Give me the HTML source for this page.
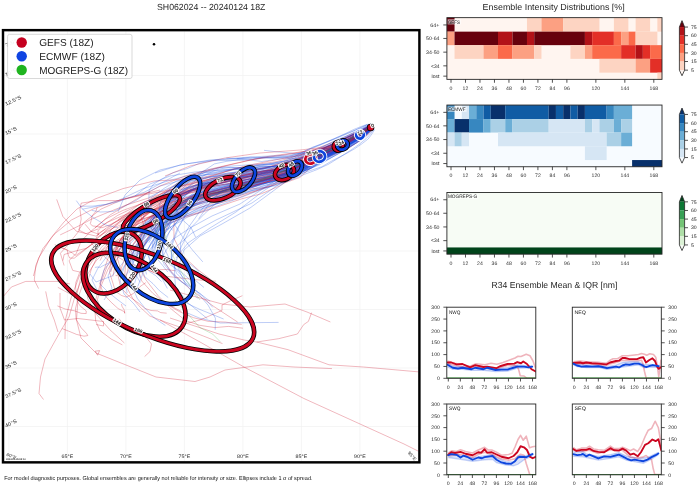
<!DOCTYPE html>
<html><head><meta charset="utf-8"><title>SH062024 ensemble</title>
<style>html,body{margin:0;padding:0;background:#fff;}body{width:700px;height:490px;overflow:hidden;font-family:"Liberation Sans", sans-serif;}</style>
</head><body>
<svg width="700" height="490" viewBox="0 0 700 490" font-family='"Liberation Sans", sans-serif' text-rendering="geometricPrecision" style="display:block;will-change:opacity;opacity:0.999"><text x="157.00" y="10.40" font-size="8.8" text-anchor="start" fill="#262626" textLength="108.40" lengthAdjust="spacingAndGlyphs">SH062024 -- 20240124 18Z</text>
<text x="482.60" y="9.70" font-size="8.8" text-anchor="start" fill="#262626" textLength="142.10" lengthAdjust="spacingAndGlyphs">Ensemble Intensity Distributions [%]</text>
<text x="491.40" y="288.40" font-size="8.8" text-anchor="start" fill="#262626" textLength="126.00" lengthAdjust="spacingAndGlyphs">R34 Ensemble Mean &amp; IQR [nm]</text>
<text x="4.20" y="479.60" font-size="5.7" text-anchor="start" fill="#111" textLength="308.30" lengthAdjust="spacingAndGlyphs">For model diagnostic purposes. Global ensembles are generally not reliable for intensity or size. Ellipses include 1 σ of spread.</text>
<clipPath id="mapclip"><rect x="4" y="31.3" width="414.2" height="429.6"/></clipPath>
<g clip-path="url(#mapclip)">
<line x1="8.90" y1="30" x2="8.90" y2="462" stroke="#f0f0f0" stroke-width="0.7"/>
<line x1="67.40" y1="30" x2="67.40" y2="462" stroke="#f0f0f0" stroke-width="0.7"/>
<line x1="125.90" y1="30" x2="125.90" y2="462" stroke="#f0f0f0" stroke-width="0.7"/>
<line x1="184.40" y1="30" x2="184.40" y2="462" stroke="#f0f0f0" stroke-width="0.7"/>
<line x1="242.90" y1="30" x2="242.90" y2="462" stroke="#f0f0f0" stroke-width="0.7"/>
<line x1="301.40" y1="30" x2="301.40" y2="462" stroke="#f0f0f0" stroke-width="0.7"/>
<line x1="359.90" y1="30" x2="359.90" y2="462" stroke="#f0f0f0" stroke-width="0.7"/>
<line x1="418.40" y1="30" x2="418.40" y2="462" stroke="#f0f0f0" stroke-width="0.7"/>
<line x1="3" y1="75.50" x2="419" y2="75.50" stroke="#f0f0f0" stroke-width="0.7"/>
<line x1="3" y1="134.00" x2="419" y2="134.00" stroke="#f0f0f0" stroke-width="0.7"/>
<line x1="3" y1="192.50" x2="419" y2="192.50" stroke="#f0f0f0" stroke-width="0.7"/>
<line x1="3" y1="251.00" x2="419" y2="251.00" stroke="#f0f0f0" stroke-width="0.7"/>
<line x1="3" y1="309.50" x2="419" y2="309.50" stroke="#f0f0f0" stroke-width="0.7"/>
<line x1="3" y1="368.00" x2="419" y2="368.00" stroke="#f0f0f0" stroke-width="0.7"/>
<line x1="3" y1="426.50" x2="419" y2="426.50" stroke="#f0f0f0" stroke-width="0.7"/>
<path d="M370.4 129.0 L364.9 133.4 L358.7 138.3 L349.0 144.0 L338.3 150.2 L325.2 158.0 L310.5 166.4 L296.1 176.4 L279.2 186.1 L261.5 193.7 L242.5 198.6 L224.1 204.7 L204.3 211.4 L181.7 218.5 L158.9 226.7 L136.6 236.4 L119.0 249.0 L107.1 266.4 L100.2 284.6 L94.4 303.9 L95.7 321.1 L100.0 330.6 L111.1 339.0 L122.4 344.9 M369.0 129.1 L362.9 133.6 L355.6 138.3 L345.7 144.8 L333.9 151.8 L320.6 157.4 L306.3 163.8 L291.2 175.3 L274.7 184.7 L257.6 190.4 L240.2 195.3 L222.7 199.8 L204.5 206.0 L186.3 211.5 L164.6 219.1 L147.5 226.8 L130.7 237.3 L118.5 251.4 L108.1 269.1 L100.8 286.6 L97.4 300.0 L101.9 311.8 L113.5 321.5 L124.1 328.5 L131.9 332.1 L131.3 331.8 L128.7 328.7 L122.8 323.6 L119.0 318.6 M372.2 129.4 L368.1 133.8 L363.0 138.6 L355.2 143.8 L345.5 150.1 L331.5 155.6 L317.5 161.5 L307.9 170.1 L299.8 177.5 L288.4 181.6 L276.6 184.2 L266.0 187.5 L253.4 188.7 L239.2 191.3 L223.6 192.4 L209.5 194.3 L196.9 199.3 M370.9 127.0 L365.9 130.8 L359.8 135.2 L350.7 140.6 L338.9 146.6 L325.4 153.1 L311.3 159.8 L299.3 166.4 L286.6 173.6 L272.2 177.7 L257.2 181.7 L241.6 186.2 L225.2 190.1 L208.3 194.4 L189.3 198.9 L173.0 204.2 L158.4 213.0 L144.6 228.6 L132.9 245.3 L123.6 261.8 L118.3 276.8 L120.7 287.4 L128.4 295.8 L138.4 303.1 L144.9 308.4 L151.0 310.5 L157.5 310.9 L160.6 312.6 L166.7 313.2 M369.4 128.7 L363.5 132.4 L356.6 136.7 L346.7 142.0 L334.7 148.1 L320.3 154.3 L305.0 161.4 L291.2 169.4 L277.3 174.4 L260.0 178.8 L242.7 182.9 L227.2 187.7 L207.6 192.9 L186.5 199.3 L164.9 207.9 L139.8 215.1 L122.7 224.3 L106.9 237.0 L95.1 249.4 L86.7 263.7 L79.5 272.9 L75.8 282.5 L75.6 288.0 L76.4 292.1 L75.1 293.0 L70.9 294.3 L64.6 291.0 L57.8 287.3 M368.2 128.5 L361.9 132.8 L354.4 137.5 L344.9 143.7 L333.6 150.7 L319.4 156.6 L304.4 162.9 L286.8 172.3 L268.7 181.2 L251.7 187.8 L235.2 192.8 L217.2 198.4 L196.7 205.2 L171.9 215.8 L143.1 226.7 L116.2 240.7 L95.0 255.2 L79.6 275.3 L71.0 298.2 L65.3 320.2 L65.0 339.1 M369.5 125.9 L363.2 129.3 L356.0 133.2 L346.5 137.8 L335.8 143.1 L323.0 148.5 L308.5 154.2 L296.1 159.1 L282.0 164.1 L267.2 167.4 L251.8 170.5 L236.5 172.7 L221.7 174.8 L205.7 180.5 L190.9 184.1 L176.5 186.7 L162.7 194.8 L149.0 201.6 L133.2 211.3 L120.6 219.3 L109.4 225.0 L101.9 227.8 L96.9 226.4 L92.5 226.0 L90.3 223.7 L91.1 220.8 L92.0 216.0 L96.0 211.1 L97.1 207.5 M369.2 128.0 L363.1 132.3 L355.6 137.0 L345.2 143.2 L332.9 149.6 L319.1 155.9 L304.5 162.4 L289.3 170.7 L272.7 179.9 L254.2 185.5 L234.8 192.4 L216.5 197.0 L195.9 203.7 L174.3 210.7 L150.4 218.4 L130.1 227.1 L112.8 238.8 L99.6 252.2 L91.7 268.1 L86.9 283.7 L87.5 298.1 L95.5 313.3 L109.6 329.5 L124.4 343.0 M370.7 126.2 L366.0 128.7 L360.0 132.0 L351.5 137.2 L339.7 142.8 L325.8 148.7 L311.4 154.5 L300.6 160.5 L287.5 165.4 L272.9 169.3 L257.5 172.9 L241.9 176.0 L225.8 181.6 L209.2 186.2 L191.3 192.8 L171.9 199.2 L156.6 207.9 L141.3 219.0 L126.9 230.4 L117.6 244.6 L111.3 254.9 L111.4 264.0 L117.1 272.5 L126.7 281.4 L135.0 288.7 L145.3 295.0 L158.3 299.7 L170.0 305.5 L181.4 311.5 M368.3 127.6 L361.4 131.6 L353.4 136.0 L344.1 141.4 L332.6 147.9 L319.3 154.4 L303.5 160.7 L287.4 168.0 L269.0 175.1 L252.6 179.5 L234.8 184.8 L217.1 189.8 L198.0 194.0 L177.3 203.3 L153.7 209.8 L130.1 220.8 L113.0 228.1 L99.1 236.0 L89.6 246.1 L80.9 253.1 L74.2 258.2 L69.6 258.0 L68.3 255.1 L67.2 249.9 L54.8 244.7 M369.2 127.5 L363.8 131.5 L357.2 135.7 L347.6 141.0 L336.1 146.7 L322.4 152.7 L308.7 159.0 L296.5 165.8 L284.0 172.1 L269.5 176.9 L255.0 181.7 L239.3 184.9 L223.7 190.4 L204.6 194.4 L184.1 199.8 L164.7 205.8 L146.8 213.7 L134.3 224.6 L123.4 237.8 L115.5 251.6 L110.4 263.6 L109.7 272.8 L113.0 283.4 L115.3 291.2 L121.5 295.5 L126.5 297.1 L133.3 293.6 L139.9 286.7 L145.8 282.6 M370.2 125.5 L364.8 128.4 L358.4 131.8 L349.1 136.8 L337.9 142.2 L323.8 149.1 L310.4 154.7 L299.4 160.4 L288.8 164.1 L276.4 168.3 L262.6 171.0 L246.5 174.3 L233.7 177.9 L219.8 181.3 L203.8 183.6 L189.6 186.4 L176.2 191.6 L161.7 203.4 L145.2 215.7 L133.6 228.7 L124.9 240.3 M370.0 126.6 L364.5 129.3 L357.8 132.6 L348.3 137.2 L336.7 142.9 L322.4 149.4 L307.3 156.0 L295.2 160.0 L281.9 164.8 L265.9 167.7 L249.3 171.1 L231.5 174.3 L213.6 178.1 L194.2 183.1 L176.3 190.5 L158.3 196.8 L143.3 202.5 L130.0 209.4 L117.7 215.4 L107.8 222.0 L101.7 226.3 L97.9 231.0 L98.1 234.5 L99.2 234.9 L98.2 234.0 L91.2 231.5 L85.1 224.2 M372.1 129.6 L368.1 133.8 L363.2 138.4 L355.0 143.8 L344.4 149.5 L330.9 155.2 L316.9 160.8 L307.0 167.2 L297.0 173.3 L284.4 177.5 L270.3 181.6 L256.6 185.0 L243.4 188.8 L228.4 191.3 L213.4 193.0 L200.0 195.5 L188.3 202.2 L177.4 212.5 L167.3 226.1 L161.6 241.0 L160.3 256.0 L172.1 273.0 L191.2 290.0 L213.7 306.4 L237.7 322.1 M371.2 127.3 L366.7 130.4 L361.1 134.0 L352.8 139.5 L342.2 145.9 L328.3 151.5 L315.1 157.0 L304.5 165.1 L294.0 171.5 L280.7 176.6 L265.9 180.8 L250.4 184.5 L235.3 186.8 L220.3 191.9 L203.9 195.7 L189.1 198.7 L173.9 207.3 L162.5 218.6 L149.3 234.2 L141.3 250.8 L138.3 264.7 L145.8 279.7 L158.1 295.7 L171.7 309.4 L185.6 320.6 L199.6 325.3 L214.9 327.6 L228.6 326.4 L242.9 328.2 M370.4 128.2 L364.1 132.1 L356.8 136.0 L347.4 140.6 L336.2 145.1 L322.9 151.4 L308.8 158.2 L297.3 164.8 L284.7 170.8 L270.5 173.7 L256.9 176.3 L243.4 179.1 L228.7 184.1 L212.0 186.3 L193.1 190.1 L176.3 195.5 L161.2 202.3 L148.2 211.8 L135.4 224.2 L124.4 236.5 L117.8 247.7 L116.9 256.1 L118.9 263.6 L121.2 270.2 L120.7 271.1 L115.4 267.7 L107.7 260.0 L98.9 250.8 L91.1 243.1 M370.2 129.1 L365.0 133.2 L358.6 137.9 L348.2 143.5 L335.4 150.0 L321.6 156.9 L305.9 163.3 L290.3 171.8 L272.5 179.8 L255.4 185.5 L237.7 190.9 L219.2 195.6 L201.1 202.1 L179.5 208.7 L156.8 214.5 L133.6 221.5 L117.0 231.6 L101.3 247.5 L88.7 266.7 L79.5 284.5 L74.3 298.2 M369.7 128.3 L363.5 132.2 L356.5 136.7 L346.5 144.0 L335.0 151.8 L321.8 157.6 L307.3 162.9 L294.0 171.5 L279.0 178.8 L263.1 183.0 L247.5 186.7 L229.3 190.1 L212.1 196.0 L190.8 201.0 L168.6 210.2 L148.3 218.5 L129.4 229.0 L118.5 242.4 L108.7 256.2 L103.4 272.1 L99.9 283.3 L103.4 294.0 L111.4 302.5 L118.0 308.5 L124.5 311.8 L124.7 313.3 L124.3 310.1 L122.0 306.3 L121.5 304.0 M369.1 129.7 L362.4 134.3 L354.6 139.5 L343.8 145.8 L331.5 152.7 L318.7 159.2 L304.3 166.5 L287.2 176.9 L270.3 185.3 L251.8 192.6 L234.6 199.3 L216.3 203.8 L198.7 212.6 L175.4 218.8 L150.9 227.1 L127.6 235.7 L109.5 246.6 L96.0 261.1 L84.9 278.5 L79.2 294.6 L75.5 308.5 L76.1 319.3 L81.2 327.8 L86.6 333.5 L87.8 335.6 L84.0 336.2 L76.5 334.4 L68.8 331.2 L62.1 328.6 M369.0 127.4 L362.7 130.9 L355.3 134.9 L345.0 140.2 L332.7 146.1 L318.5 152.2 L302.8 157.5 L289.5 164.2 L275.0 170.6 L259.6 174.2 L244.3 177.1 L228.4 179.3 L211.3 184.7 L190.5 190.6 L169.1 197.6 L146.6 204.5 L129.1 212.7 L113.6 223.0 L100.4 235.6 L90.5 245.3 L81.8 251.4 L76.2 255.2 L74.4 255.0 L72.0 252.5 L67.6 250.3 L58.9 246.8 M371.7 128.0 L367.0 131.5 L360.7 135.6 L351.7 142.0 L340.0 148.5 L326.4 154.5 L312.8 160.0 L300.0 167.1 L287.6 173.3 L273.0 178.3 L258.5 182.2 L241.9 186.2 L227.3 190.3 L209.6 195.8 L189.8 199.6 L172.8 205.7 L158.2 213.9 L146.7 228.3 L135.5 245.8 L129.2 263.4 L125.8 278.6 L127.8 289.2 L132.9 298.8 L140.1 307.1 L149.8 316.0 L165.8 322.2 L183.5 328.4 L203.8 336.2 L222.5 343.6 M371.1 125.5 L366.7 127.6 L361.1 130.1 L352.4 133.7 L340.8 139.1 L326.7 144.6 L311.4 150.6 L300.6 154.6 L290.0 158.0 L276.2 161.7 L263.5 163.4 L248.6 166.2 L235.0 168.4 L221.5 172.9 L206.0 176.7 L192.5 179.6 L178.4 182.6 L167.9 189.3 L157.2 196.4 L147.5 201.1 L140.9 208.3 L140.3 213.5 L142.6 221.8 L145.0 228.0 L143.6 230.2 M368.8 126.4 L362.3 129.7 L354.8 133.3 L344.3 138.6 L331.6 144.8 L317.4 151.2 L302.2 157.3 L287.2 164.5 L271.1 171.1 L254.2 175.2 L235.1 179.5 L216.8 184.0 L199.5 188.1 L176.7 195.5 L156.6 204.3 L136.6 210.3 L119.5 217.0 L107.3 222.4 L98.7 227.4 M370.8 127.2 L365.4 130.8 L358.8 134.6 L349.1 139.7 L337.5 144.6 L323.5 150.2 L309.9 155.9 L300.6 161.4 L290.2 165.6 L277.0 169.1 L263.4 172.2 L248.9 174.6 L233.4 179.7 L219.5 181.7 L203.1 187.5 L187.2 190.9 L172.4 198.2 L160.0 206.6 L147.4 219.4 L137.1 232.3 L130.1 241.7 L130.7 248.9 L132.9 256.6 L137.6 260.5 L142.5 266.4 L151.4 268.1 L158.5 269.7 L166.7 269.5 L175.4 270.8 M371.7 127.9 L367.1 131.1 L361.1 134.6 L351.9 139.1 L341.1 144.5 L328.3 150.0 L314.8 156.6 L301.7 163.0 L290.6 167.4 L277.8 171.1 L264.3 173.9 L252.7 176.2 L238.3 179.5 L222.5 182.3 L205.7 185.5 L190.6 189.9 L176.2 197.0 L162.7 206.9 L151.4 220.3 L142.4 232.9 L137.9 245.9 L137.0 254.7 L140.1 261.4 L143.3 267.5 L153.1 272.2 L164.5 276.1 L180.8 278.0 L199.7 280.0 L216.1 281.2 M369.3 126.5 L363.4 129.3 L356.5 132.6 L346.1 137.5 L333.5 143.6 L319.5 150.0 L304.4 156.4 L291.3 162.4 L277.2 166.8 L262.1 171.3 L245.5 174.1 L229.9 178.1 L213.5 181.1 L194.0 187.2 L176.1 193.2 L157.1 199.0 L142.0 207.1 L129.9 213.7 L119.5 221.7 L110.7 230.2 L107.8 236.5 L105.3 242.7 L108.3 247.6 L112.8 252.8 L119.2 257.8 L128.8 263.3 L141.0 266.8 L152.6 271.9 L162.7 276.1 M372.1 126.6 L367.6 129.6 L361.7 132.9 L353.0 137.4 L341.5 142.5 L327.0 148.9 L312.6 154.4 L300.4 158.1 L288.9 161.4 L275.9 165.1 L262.8 169.0 L247.8 171.8 L232.5 178.3 L214.9 181.0 L195.3 188.4 L175.3 194.8 L157.9 202.2 L144.6 212.2 L132.7 223.4 L123.4 234.6 L117.7 244.2 L114.5 253.1 L115.4 261.0 L117.5 268.4 L117.6 272.0 L117.8 274.9 L117.8 275.2 L116.1 275.8 L115.8 274.8 M372.8 128.0 L368.5 131.9 L363.1 136.1 L354.9 141.3 L345.0 146.3 L331.6 151.4 L318.7 157.0 L310.0 163.4 L302.1 169.1 L289.6 172.3 L276.3 174.5 L263.4 177.7 L249.8 179.8 L238.5 178.9 L227.2 179.5 L214.9 180.9 L205.3 183.7 L194.9 194.3 L182.7 209.1 L173.8 224.1 L174.0 238.3 L182.6 255.6 L198.3 270.0 L219.1 285.9 M371.4 127.5 L366.2 131.3 L360.2 135.7 L351.4 141.0 L341.1 147.0 L328.4 154.0 L314.6 160.0 L304.3 165.7 L291.8 172.0 L277.5 175.9 L263.2 180.8 L246.2 184.1 L231.1 188.4 L216.5 192.4 L201.0 196.0 L186.5 200.6 L172.9 209.7 L161.6 223.0 L149.0 236.4 L139.6 253.9 L137.9 268.5 L141.8 281.1 L152.8 293.3 L165.5 303.5 L179.3 311.6 L193.5 317.7 L208.1 321.3 L225.5 322.1 L241.7 324.4 M369.4 128.4 L363.2 132.9 L355.9 137.5 L345.2 142.8 L334.3 148.4 L320.5 154.1 L305.3 160.1 L289.3 169.0 L270.3 177.3 L251.5 182.5 L231.9 189.0 L212.0 194.0 L192.2 201.0 L169.9 208.5 L145.9 218.3 L122.5 226.9 L105.2 239.6 L92.4 252.2 L85.3 266.8 L80.2 279.8 L77.3 292.6 L77.1 301.1 L80.3 306.1 L86.2 310.9 L86.2 313.6 L81.0 313.3 L74.5 310.8 L65.1 309.0 L57.4 305.9 M368.9 126.5 L362.3 130.2 L354.8 134.3 L344.6 138.7 L332.9 143.5 L318.8 148.9 L303.8 154.6 L287.8 160.4 L271.1 166.0 L254.1 169.5 L235.2 173.1 L215.4 177.9 L195.3 182.2 L172.9 189.6 L150.1 197.5 L125.5 205.3 L107.3 212.6 L91.2 219.3 L79.6 225.5 L70.4 230.0 L60.2 234.9" fill="none" stroke="#cb0520" stroke-opacity="0.36" stroke-width="0.8" stroke-linejoin="round"/>
<path d="M373.8 127.6 L369.4 131.7 L364.5 135.8 L358.0 140.1 L349.2 144.3 L338.8 150.7 L326.7 157.1 L315.3 163.5 L303.1 169.3 L291.2 171.4 L280.7 173.7 L268.6 176.9 L256.7 178.8 L242.5 180.5 L229.3 181.1 L215.5 185.2 L202.9 191.2 L189.4 200.0 L178.7 210.5 L168.5 224.1 L163.8 236.3 L167.2 245.1 L178.2 254.4 L188.8 263.1 L199.1 271.4 M372.0 128.9 L367.7 133.1 L363.0 137.9 L355.7 142.4 L347.4 147.4 L336.3 153.6 L325.0 160.2 L313.6 166.5 L302.4 171.9 L290.2 175.9 L278.0 177.8 L265.2 181.6 L252.1 185.0 L237.8 189.5 L221.5 191.9 L206.0 198.7 L194.6 204.4 L185.5 214.9 L177.1 229.0 L171.7 243.6 L171.3 256.8 L175.6 268.9 L186.3 280.8 L198.3 293.7 L208.1 305.2 L215.4 318.2 L215.2 329.8 M371.2 130.0 L365.7 135.0 L359.7 139.8 L351.5 144.4 L341.7 148.7 L329.5 154.7 L316.7 161.1 L304.9 169.0 L292.1 175.5 L277.8 180.6 L263.7 183.2 L249.8 187.2 L235.3 192.9 L218.7 196.3 L201.7 201.9 L184.9 209.4 L170.7 217.5 L156.9 230.2 L144.5 245.7 L134.2 259.6 L127.4 272.9 L123.1 279.6 L124.0 283.5 L126.5 289.1 L127.1 293.0 M374.5 129.8 L371.7 134.3 L368.1 139.0 L362.2 143.6 L354.8 148.7 L344.3 154.7 L332.3 160.7 L321.9 166.7 L310.6 170.5 L299.8 174.1 L291.2 176.3 L279.3 178.6 L268.2 180.6 L255.1 182.6 L243.3 182.6 L230.1 186.5 L219.5 192.7 L209.0 203.9 L198.7 218.8 M366.8 124.8 L360.0 127.9 L352.4 131.3 L341.9 135.4 L330.3 140.2 L319.0 145.0 L307.0 149.9 L295.3 156.2 L283.2 161.2 L268.8 164.2 L255.4 164.2 L241.3 165.4 L225.9 166.4 L209.4 169.4 L190.1 175.1 L172.3 179.7 L154.8 185.0 L143.0 188.7 L128.9 195.5 L118.6 200.3 L105.8 204.4 L92.8 206.1 L80.1 206.3 M373.8 129.5 L370.5 133.9 L366.2 138.6 L359.2 144.3 L351.0 150.0 L340.0 157.1 L328.6 164.2 L316.5 169.8 L304.0 174.5 L293.4 179.1 L283.1 181.9 L271.2 184.4 L259.2 188.8 L244.2 192.5 L229.7 197.6 L216.1 203.3 L204.4 213.9 L190.8 227.9 L181.2 246.8 L174.2 266.6 L175.4 286.2 L187.5 302.5 L207.3 318.6 M370.8 127.2 L366.0 131.0 L360.3 135.2 L352.6 140.0 L343.3 145.0 L332.3 150.6 L321.3 157.5 L308.4 163.8 L295.6 169.7 L283.3 173.8 L270.3 175.7 L257.1 178.7 L244.4 181.9 L229.0 185.7 L213.0 189.6 L196.8 192.7 L183.2 201.2 L170.0 211.4 L158.4 226.1 L148.6 238.8 L141.9 250.6 L140.6 258.3 L140.1 263.8 L145.2 268.8 L146.5 274.4 M373.9 126.7 L369.9 130.5 L365.6 134.6 L359.3 139.3 L351.4 144.9 L340.6 150.7 L327.7 156.6 L315.4 164.8 L303.6 170.3 L291.9 174.3 L281.6 176.0 L270.6 179.1 L258.2 181.8 L242.3 184.1 L227.8 187.6 L212.5 192.4 L200.3 198.6 L188.6 210.7 L179.0 226.6 L172.6 243.8 L171.3 257.9 L176.5 273.2 L186.0 283.1 L201.2 294.5 L212.8 307.4 M370.0 126.0 L364.1 129.5 L357.5 133.5 L348.9 138.3 L338.7 143.9 L327.9 149.7 L315.4 155.3 L304.0 162.5 L291.7 167.2 L278.5 170.0 L265.3 173.4 L253.1 175.8 L239.2 178.1 L223.9 180.8 L208.1 184.8 L191.8 189.1 L179.1 196.3 L167.4 206.6 L155.4 218.8 L146.3 231.2 L140.9 241.7 L139.3 249.6 L139.8 256.1 L141.2 262.9 L142.9 268.7 L142.2 275.2 L137.7 286.6 M370.5 124.8 L365.0 127.8 L359.0 131.0 L351.1 135.3 L341.8 139.5 L330.1 145.0 L317.5 151.2 L307.1 156.0 L295.9 160.6 L284.1 162.6 L270.9 164.6 L258.7 165.4 L245.0 168.3 L231.8 169.6 L215.8 172.0 L203.4 172.8 L187.5 176.5 L176.6 183.7 L162.5 195.1 L150.5 204.0 L142.3 212.3 M371.7 128.8 L367.2 132.9 L361.8 137.2 L354.4 141.4 L345.6 146.1 L335.4 152.9 L323.1 159.1 L310.7 165.7 L298.0 172.1 L285.2 174.3 L273.5 176.4 L259.7 178.3 L247.5 181.3 L232.8 183.5 L217.9 186.5 L204.1 190.3 L189.7 197.5 L178.6 206.4 L167.5 219.0 L157.6 232.2 L156.5 244.6 L159.2 253.8 L169.5 264.4 L181.2 272.1 L191.2 280.7 M369.7 127.0 L364.0 130.4 L357.6 133.9 L348.6 138.8 L338.3 143.9 L327.2 149.8 L315.6 155.6 L303.7 162.0 L291.8 168.1 L278.8 172.1 L266.7 175.1 L252.2 178.3 L237.3 181.5 L221.5 186.4 L202.6 192.1 L186.2 196.6 L170.7 201.1 L158.4 212.4 L148.5 224.6 L140.1 237.3 L133.7 244.3 L128.0 249.9 L126.5 252.5 L123.9 253.8 L122.0 254.7 M372.2 125.4 L367.6 128.6 L362.3 132.4 L355.4 136.3 L346.6 141.0 L335.8 146.8 L323.6 152.4 L311.9 157.8 L300.7 163.0 L288.7 166.2 L277.3 167.1 L264.7 168.4 L251.8 169.9 L238.9 173.3 L224.9 176.7 L209.8 179.1 L197.1 185.1 L184.1 193.6 L172.7 204.2 L161.5 214.0 L153.2 222.2 L151.7 229.2 L153.3 236.8 L158.5 240.9 L162.4 246.6 M369.3 130.1 L363.2 134.9 L356.1 140.0 L347.7 145.8 L337.8 151.9 L326.4 158.2 L313.3 165.2 L299.9 173.1 L285.6 181.0 L270.8 186.5 L255.8 191.6 L242.3 196.9 L225.3 203.1 L207.9 209.4 L187.3 217.3 L169.1 228.1 L151.4 237.3 L139.3 249.7 L129.6 265.0 M370.9 126.3 L365.8 129.8 L360.0 133.8 L351.7 138.4 L342.4 143.6 L330.8 149.0 L318.9 153.8 L306.6 159.3 L295.8 163.9 L283.2 166.3 L271.5 168.2 L257.8 168.6 L244.3 171.3 L229.2 172.8 L214.4 175.7 L198.6 178.5 L184.4 183.5 M371.4 128.3 L366.7 133.1 L360.6 138.0 L352.2 143.4 L341.8 148.8 L330.3 154.3 L318.3 160.3 L305.5 168.6 L292.1 175.3 L279.2 178.9 L265.5 183.4 L252.5 185.4 L238.8 190.1 L222.4 194.7 L204.2 201.3 L188.3 208.7 L172.0 217.4 L160.8 228.3 L151.1 242.5 L145.2 255.5 L141.6 266.8 L144.6 276.5 L153.0 283.7 L159.4 290.7 L168.2 297.5 M368.7 124.1 L362.7 126.8 L355.7 130.0 L346.9 133.9 L336.5 138.3 L325.3 142.6 L312.8 147.1 L301.3 152.8 L288.4 156.4 L276.1 157.6 L264.0 158.1 L250.6 157.2 L236.8 158.7 M369.9 129.6 L364.2 134.4 L357.6 139.4 L349.2 144.5 L339.1 150.7 L328.3 156.0 L316.2 162.2 L303.3 169.8 L288.5 175.2 L275.7 179.4 L263.9 182.0 L251.3 186.0 L236.0 189.6 L218.8 194.3 L201.6 197.6 L184.0 204.1 L168.8 212.1 L155.0 224.2 L142.2 240.6 L133.1 255.9 L123.7 266.8 L120.1 274.3 L119.5 277.1 M370.9 123.8 L365.4 126.5 L359.4 129.5 L352.1 133.3 L343.4 137.6 L332.3 142.7 L320.6 147.2 L310.7 152.2 L300.5 155.6 L288.9 157.4 L275.7 158.3 L263.9 157.7 L252.3 159.6 L239.2 160.0 L225.8 160.5 L212.8 160.6 L199.9 163.2 L187.1 168.6 L173.0 172.7 L161.8 179.0 L153.3 184.4 L149.2 190.4 L148.8 198.5 L150.9 205.6 L151.5 212.1 M373.5 123.9 L369.6 126.5 L365.0 129.4 L357.9 132.5 L349.2 136.5 L338.1 141.6 L326.0 147.3 L315.3 151.4 L305.4 152.6 L296.2 153.7 L285.8 152.5 L275.8 151.7 L264.0 150.3 M370.7 128.4 L366.0 133.1 L360.0 137.9 L351.7 142.9 L341.8 148.0 L330.7 153.8 L318.8 160.3 L306.1 168.6 L292.8 175.7 L279.8 180.1 L267.0 183.1 L254.8 186.1 L240.0 190.6 L222.8 195.2 L204.6 202.3 L186.8 208.0 L172.0 217.3 L158.0 228.3 L148.8 242.7 M367.6 124.2 L360.8 126.6 L353.5 129.6 L343.8 134.3 L332.7 139.6 L321.9 144.4 L310.4 149.1 L298.8 156.2 L287.6 160.5 L273.9 163.4 L260.3 164.9 L245.7 166.8 L230.9 169.9 L213.1 173.0 L194.9 176.4 L177.1 181.5 L160.5 185.9 L147.0 192.7 L136.2 200.4 L124.5 206.1 L113.1 211.5 L100.5 212.0 L91.7 210.4 M372.7 126.3 L368.2 130.5 L362.8 134.8 L356.6 139.0 L347.9 143.9 L337.0 149.8 L325.2 155.5 L312.5 161.0 L300.8 165.7 L288.7 167.5 L277.5 170.9 L265.4 173.0 L255.6 175.7 L240.6 176.5 L227.1 177.0 L216.4 179.9 L202.7 185.2 L190.8 195.3 L180.4 206.3 L171.6 219.7 L167.6 230.0 M369.9 130.6 L364.8 135.9 L358.6 141.2 L350.0 146.7 L341.2 151.9 L329.8 158.3 L317.9 164.1 L305.1 172.1 L291.2 179.7 L277.4 185.4 L264.4 187.8 L250.7 191.3 L235.4 197.4 L219.1 203.2 L201.3 208.8 L183.7 217.1 L169.4 228.3 L155.8 241.7 L144.6 256.8 L137.5 273.4 L133.1 288.5 L137.3 298.4 L144.6 307.7 L154.3 318.0 L165.4 325.5 M372.8 127.3 L368.2 131.9 L363.0 136.7 L356.4 140.9 L348.4 146.1 L336.1 152.2 L323.6 158.6 L311.8 164.3 L299.4 169.7 L288.1 173.2 L275.4 176.5 L263.6 178.8 L250.4 181.8 L237.8 184.7 L222.0 188.8 L207.4 192.6 L194.7 198.2 L182.7 210.0 L172.3 221.3 L164.3 234.5 L160.8 246.1 L163.8 256.2 L172.8 265.6 M369.7 127.0 L364.0 130.1 L357.4 133.6 L349.8 138.6 L340.0 144.1 L328.3 150.4 L316.3 156.9 L304.8 163.7 L292.2 170.5 L278.2 173.0 L265.8 177.0 L250.4 178.7 L235.2 182.6 L220.3 188.2 L204.2 193.2 L186.3 199.1 L171.8 206.9 L159.9 216.5 L149.6 227.9 L140.7 239.4 L134.1 250.4 L132.0 257.7 L133.3 263.5 L138.0 270.2 L140.3 277.9 M373.4 124.2 L369.2 126.2 L364.1 129.0 L356.6 133.0 L347.8 137.8 L337.0 143.2 L326.2 147.9 L316.0 153.3 L305.2 157.3 L294.1 158.6 L284.6 158.5 L273.5 159.8 L261.8 161.5 L250.4 160.1 L238.3 159.8 L226.3 161.4 L214.4 163.9 L203.1 171.4 L189.4 181.4 L178.7 192.4 L174.8 201.0 L176.7 210.9 L182.2 219.5 L191.1 227.7 L195.7 237.3 M371.2 127.2 L366.5 130.8 L361.0 134.9 L353.5 139.7 L344.1 145.3 L332.7 150.1 L321.5 155.6 L309.8 162.1 L298.2 165.8 L287.3 168.0 L275.1 170.0 L263.8 171.0 L250.2 172.8 L236.9 174.8 L222.6 177.5 L208.3 181.2 L195.9 185.5 L183.7 191.4 L170.8 199.2 L160.9 207.4 L153.7 215.8 L152.0 222.3 L153.7 228.1 L157.2 233.3 L159.4 237.9 M373.0 125.6 L368.5 128.7 L363.1 132.3 L356.0 136.4 L347.6 141.4 L336.1 146.6 L323.9 153.3 L311.8 157.7 L301.1 162.6 L289.2 164.1 L278.8 166.5 L266.0 166.5 L254.3 167.8 L243.4 168.1 L230.4 167.3 L218.0 169.2 L206.5 174.2 L194.1 181.4 L183.8 191.7 L175.9 201.1 L171.6 213.6 L174.8 224.9 L183.2 237.9 L192.6 250.2 L202.8 261.9 M370.5 128.3 L364.9 132.4 L358.5 136.7 L350.1 142.1 L340.2 147.6 L329.4 153.6 L316.6 160.3 L305.5 167.2 L292.7 173.6 L278.9 177.1 L264.3 180.2 L249.7 184.4 L235.4 187.4 L217.2 192.6 L202.2 198.2 L186.4 203.4 L172.7 210.3 L159.5 221.6 L148.7 234.0 L137.6 246.1 L131.5 255.9 L130.0 263.2 L132.2 269.8 L136.2 275.5 L140.3 282.4 M370.7 127.9 L365.6 131.3 L359.9 135.0 L352.5 139.8 L343.3 145.1 L331.5 150.5 L318.9 155.8 L306.7 162.3 L295.0 167.6 L282.7 171.4 L269.3 173.9 L257.4 176.8 L243.0 180.9 L227.2 185.8 L211.0 190.0 L192.4 194.9 L178.9 201.1 L167.4 208.8 L156.4 219.4 M367.7 128.8 L361.0 133.1 L353.5 137.5 L344.1 143.4 L333.9 148.8 L322.8 153.8 L311.2 161.2 L297.4 169.1 L283.0 177.7 L268.1 184.3 L254.9 188.2 L240.3 192.9 L224.0 200.3 L206.2 207.7 L185.8 216.4 L165.8 225.3 L151.4 235.3 L137.6 246.5 L129.1 257.4 M373.0 128.4 L368.6 132.7 L363.6 137.4 L356.2 143.1 L347.5 148.8 L336.4 155.0 L324.9 161.0 L312.2 167.8 L299.9 173.0 L287.2 177.3 L275.2 180.6 L264.4 183.5 L252.2 187.5 L235.7 190.2 L220.5 193.1 L205.2 198.2 L192.9 205.2 L180.6 217.4 L169.8 230.9 L163.9 244.6 L162.0 258.0 L169.5 269.9 L180.6 281.2 L196.1 290.7 L210.2 301.3 M370.7 127.5 L365.3 131.7 L359.5 135.9 L351.9 140.7 L343.1 145.9 L330.9 152.0 L318.8 158.0 L306.3 165.8 L292.8 171.3 L280.7 175.9 L268.2 179.2 L254.6 183.4 L240.6 186.4 L224.3 190.7 L208.3 195.8 L193.6 200.8 L179.6 208.8 L166.4 219.4 L156.3 234.5 L148.5 248.3 L143.3 259.7 L144.8 266.5 L148.9 271.3 L155.6 275.5 L161.5 281.6 M371.2 128.9 L366.1 132.9 L360.6 136.9 L353.5 142.2 L345.0 147.6 L335.1 153.3 L323.5 159.4 L311.5 167.8 L299.2 173.4 L285.7 177.3 L273.3 178.5 L260.1 182.5 L246.8 186.9 L231.3 192.0 L213.9 201.3 L197.0 209.5 L183.0 216.1 M370.1 125.5 L364.6 128.7 L358.2 132.3 L349.7 136.7 L340.1 141.4 L328.2 146.1 L317.0 152.0 L304.3 157.5 L292.0 163.1 L280.1 164.8 L267.5 167.4 L253.6 169.4 L240.8 171.4 L224.9 173.6 L207.6 174.7 L192.7 177.9 L177.3 180.5 L164.2 188.3 L150.7 198.2 M367.6 128.4 L360.9 132.8 L353.4 137.0 L343.9 141.7 L333.1 146.9 L322.7 152.1 L310.2 158.7 L296.4 166.7 L281.5 174.2 L266.0 179.1 L252.0 183.0 L237.3 186.6 L220.1 192.3 L203.5 198.1 L183.5 204.4 L164.8 212.1 L147.8 221.8 L134.2 232.2 L123.7 242.7 L116.1 255.1 L108.1 263.4 L102.8 265.8 L100.2 267.4 L97.7 267.0 L94.9 267.4 M367.7 125.9 L360.9 129.4 L353.1 133.1 L343.4 137.2 L332.5 141.7 L321.5 147.6 L309.5 153.0 L295.6 158.9 L280.2 164.7 L266.2 168.3 L250.2 171.9 L234.5 175.0 L217.9 179.1 L199.7 184.0 L179.8 190.2 L160.1 196.5 L143.0 202.7 M369.2 126.3 L363.6 129.9 L357.2 133.8 L349.5 138.2 L340.4 143.1 L328.9 147.7 L315.9 152.2 L303.7 158.3 L291.4 162.8 L278.2 165.8 L264.8 167.9 L251.6 169.8 L238.3 172.4 L222.4 175.1 L206.1 178.1 L190.2 180.7 L174.6 186.0 L161.1 191.1 L149.1 197.3 M374.0 127.2 L370.3 130.9 L365.7 135.0 L359.5 140.1 L351.8 145.6 L341.5 151.8 L329.8 158.7 L318.8 165.2 L307.7 169.4 L296.8 172.3 L287.2 174.6 L275.2 176.2 L263.5 179.8 L250.3 183.4 L236.2 186.8 L221.3 192.0 L209.4 200.4 L198.9 212.8 L188.6 227.2 L180.4 242.6 L180.9 259.0 L188.0 274.3 L203.9 287.4 M371.3 124.6 L366.7 127.8 L361.1 131.0 L353.3 134.4 L343.9 138.7 L333.1 143.7 L321.0 149.1 L310.4 154.2 L299.6 159.2 L288.2 161.6 L274.9 164.2 L263.8 165.4 L251.2 168.4 L237.5 168.9 L224.5 169.6 L212.0 170.6 L198.6 174.6 L185.8 180.7 L175.1 188.4 L165.0 195.1 L159.9 203.1 L159.2 210.0 L163.8 217.2 L168.4 224.6 L172.6 230.4 M371.2 126.9 L366.2 130.6 L360.3 134.7 L352.2 139.8 L342.7 145.6 L331.9 151.0 L319.2 156.7 L307.3 163.3 L295.9 168.0 L283.2 171.8 L270.4 174.4 L258.2 176.1 L244.9 180.7 L231.7 183.5 L216.5 185.3 L202.1 190.2 L189.3 197.3 L178.2 205.9 L166.3 219.4 L157.6 230.7 L152.6 243.0 L152.7 251.9 L157.1 258.7 L162.6 265.4 L167.9 272.1 M374.0 125.4 L370.7 128.7 L366.1 132.2 L358.5 136.3 L348.7 140.7 L337.5 147.1 L325.7 153.1 L314.1 158.2 L303.2 163.4 L292.2 165.5 L280.5 165.1 L269.8 166.6 L257.8 167.0 L245.4 167.5 L231.1 167.6 L219.5 167.6 L207.6 171.0 L193.2 177.8 L180.2 187.7 L169.1 198.8 L161.4 209.7 L159.3 217.1 L163.2 225.8 M370.4 127.4 L364.8 131.1 L358.5 135.0 L350.8 139.6 L341.6 143.8 L330.7 149.2 L318.4 154.3 L306.2 160.7 L294.9 165.1 L282.1 168.4 L269.7 170.2 L256.8 171.1 L242.8 173.3 L230.6 176.3 L214.6 178.2 L198.4 184.5 L185.3 188.0 L171.4 198.7 L158.5 210.2 L148.1 222.2 L141.1 233.6 L140.1 241.2 L142.6 249.4 L147.2 253.9 L150.6 260.6 M372.5 127.6 L367.5 131.7 L361.8 136.0 L353.4 141.4 L343.4 147.0 L332.8 152.9 L320.8 158.3 L307.8 165.4 L295.1 171.4 L281.3 175.2 L268.6 178.8 L255.6 182.1 L240.2 184.6 L227.5 188.6 L210.4 192.0 L196.7 196.0 L182.7 202.9 L171.2 214.7 L160.0 227.7 L154.0 243.1 L148.8 255.8 L150.2 265.8 L155.3 272.6 L162.5 279.1 L167.3 288.5 M371.3 126.9 L366.2 130.4 L360.6 134.5 L352.8 139.5 L344.0 144.8 L333.0 150.7 L319.8 157.1 L306.8 161.7 L293.5 167.4 L281.4 171.3 L267.8 172.0 L255.8 174.9 L241.6 179.3 L225.5 182.3 L209.1 184.8 L192.4 191.3 L177.0 197.6 L165.1 205.1 L152.9 215.4 L142.3 225.8 L135.0 234.0 L130.2 239.5 L128.3 244.6 M372.2 127.2 L367.5 131.2 L361.9 135.3 L354.3 139.5 L344.9 144.0 L334.5 149.0 L323.0 155.0 L311.3 160.7 L299.5 166.2 L288.1 168.2 L276.1 169.7 L262.7 170.8 L250.6 172.8 L238.9 174.8 L222.2 175.3 L209.2 177.2 L196.6 181.8 L184.1 189.6 L173.3 199.1 L163.1 208.8 L156.8 220.5 L154.8 229.1 L159.5 239.5 L165.3 249.9 L170.1 260.8 M371.2 123.9 L366.6 126.5 L361.5 129.6 L353.9 133.9 L345.3 137.8 L334.5 143.5 L322.5 148.0 L312.2 152.2 L300.6 155.2 L289.7 157.1 L276.8 157.7 L266.8 157.3 L252.8 158.8 L240.1 158.8 L226.4 158.0 M373.1 127.7 L368.8 131.9 L363.6 136.2 L356.4 141.1 L347.1 146.8 L335.7 153.4 L323.5 160.1 L310.8 168.5 L296.9 173.6 L284.6 176.3 L272.5 178.5 L260.1 181.0 L246.4 183.7 L231.7 187.1 L214.9 190.0 L200.3 196.4 L187.9 201.5 L176.9 210.6 L165.1 223.2 M371.2 127.0 L366.3 130.3 L360.2 134.0 L351.9 138.1 L342.0 142.9 L330.3 147.7 L317.7 153.5 L305.9 159.5 L293.4 165.1 L281.0 166.9 L268.8 169.0 L256.3 170.1 L242.5 172.6 L228.1 175.7 L212.8 176.3 L198.1 179.7 L185.0 184.3 L172.7 189.5 L160.9 195.6 L151.5 203.7 L144.0 212.9 L143.5 217.6 L146.3 224.2 L152.9 229.5 L154.4 234.6 M373.8 128.7 L369.8 133.0 L364.9 137.4 L358.5 141.8 L350.1 146.6 L338.6 152.4 L326.2 158.0 L314.4 165.3 L302.6 171.3 L290.1 174.2 L277.8 178.4 L266.8 180.5 L254.3 184.1 L239.9 187.4 L224.2 190.3 L209.6 195.2 L196.2 201.5 L183.9 212.3 L172.7 227.4 L163.5 240.6 L159.8 253.7 L164.3 264.7 L174.7 276.9 L187.6 286.4 L197.7 298.5" fill="none" stroke="#0d45de" stroke-opacity="0.34" stroke-width="0.8" stroke-linejoin="round"/>
<path d="M370.5 126.6 L365.5 130.2 L359.5 134.0 L351.5 138.6 L342.2 144.0 L331.3 149.5 L318.7 155.3 L306.3 160.8 L294.1 165.9 L282.1 168.7 L268.9 171.2 L256.9 173.4 L243.7 174.9 L227.9 178.4 L211.9 182.4 L197.9 187.3 L184.3 192.8 L170.9 199.1 L160.0 207.9 L150.2 217.6 L143.6 227.3 M371.5 125.9 L366.7 129.1 L361.3 132.7 L353.6 137.2 L344.3 141.5 L332.9 147.9 L320.1 152.8 L309.0 158.3 L296.1 163.2 L285.1 165.8 L273.0 166.3 L259.5 166.9 L246.8 168.9 L233.1 169.9 L217.3 173.2 L202.6 175.2 L188.2 179.4 L176.6 184.0 L164.7 193.3 L154.6 202.7 L146.8 209.8 M370.3 128.6 L365.0 133.1 L358.7 137.8 L350.2 143.0 L340.2 148.3 L328.7 154.7 L316.5 160.8 L303.5 168.9 L290.1 176.4 L276.2 181.1 L262.2 183.7 L249.4 188.4 L234.6 192.4 L217.0 197.7 L198.6 206.6 L181.4 212.6 L166.0 222.7 L153.7 233.6 L141.5 247.9 L133.8 261.6 L129.0 273.2 M370.4 126.2 L364.9 129.8 L358.7 133.6 L350.6 138.2 L340.8 143.7 L330.5 148.7 L318.4 154.7 L306.2 161.6 L293.5 168.1 L280.3 171.1 L267.8 173.0 L255.0 175.3 L242.1 178.5 L227.3 181.3 L212.4 185.1 L195.4 189.3 L182.0 194.1 L170.0 202.9 L156.3 215.0 L146.6 226.8 L140.3 236.6 M371.5 127.0 L366.8 130.6 L361.3 134.5 L353.5 139.1 L343.9 144.0 L332.8 149.6 L320.9 155.0 L309.0 160.7 L296.4 166.0 L283.5 169.6 L271.8 171.7 L259.0 173.2 L246.7 175.7 L231.6 178.2 L214.6 181.2 L199.1 185.0 L184.2 189.4 L173.1 198.6 L160.4 208.0 L151.7 217.9 L143.8 228.5 M371.4 128.6 L366.8 133.1 L361.3 137.7 L353.6 142.4 L344.2 147.8 L333.5 153.3 L321.9 159.5 L308.9 166.9 L297.0 172.7 L284.8 175.5 L273.0 178.7 L259.1 180.5 L246.7 183.9 L232.7 187.9 L217.5 192.0 L202.4 196.2 L190.2 202.7 L177.4 213.6 L165.6 225.8 L156.9 240.5 L152.9 252.7 M371.1 127.8 L366.3 131.6 L360.8 135.8 L353.5 140.5 L344.3 145.5 L333.7 151.5 L320.9 157.8 L309.9 163.8 L297.6 168.0 L285.6 171.4 L274.3 172.9 L262.4 174.7 L248.9 177.1 L235.4 179.5 L219.3 181.0 L203.7 185.3 L190.5 191.2 L179.0 198.3 L167.7 210.4 L159.4 221.4 L152.2 230.9 M371.8 128.3 L367.2 132.5 L361.8 136.8 L354.1 141.5 L344.7 146.9 L333.4 152.1 L321.4 158.4 L310.0 164.8 L298.1 169.8 L287.4 174.0 L275.2 176.4 L263.0 179.0 L250.1 181.6 L235.4 185.8 L219.1 189.4 L203.0 194.9 L189.0 203.2 L177.8 214.5 L166.5 225.7 L157.5 240.3 L154.2 253.0 M372.8 127.1 L368.4 131.1 L363.2 134.8 L355.8 139.8 L347.1 145.1 L336.0 150.4 L324.2 156.7 L313.1 162.6 L302.1 167.2 L290.9 170.1 L279.3 171.4 L265.7 173.9 L254.5 174.5 L239.6 178.8 L224.0 182.7 L210.3 185.6 L196.9 192.0 L185.7 202.0 L174.3 214.9 L165.2 227.7 L161.0 239.1 M371.5 125.9 L366.3 129.3 L360.2 133.0 L352.3 137.6 L343.4 142.8 L331.9 148.6 L319.5 154.1 L307.6 160.7 L295.2 165.9 L281.6 168.7 L269.5 170.8 L256.0 173.6 L243.8 176.4 L228.7 178.5 L213.8 181.4 L198.7 184.2 L186.8 188.7 L173.7 197.2 L162.5 206.6 L154.0 217.8 L146.2 226.8 M370.9 128.2 L365.7 132.4 L360.0 136.8 L351.7 141.6 L342.3 146.7 L331.7 152.6 L320.1 158.0 L307.9 165.2 L295.4 171.8 L281.4 174.4 L268.3 177.2 L255.0 180.4 L241.3 183.5 L225.1 188.4 L207.9 194.1 L191.9 199.6 L176.1 206.3 L164.4 217.9 L154.1 231.2 L144.8 244.1 L139.6 254.1 M372.3 127.1 L367.8 130.5 L362.7 134.5 L355.6 139.1 L346.6 144.7 L335.5 150.1 L323.5 155.7 L312.2 160.9 L300.7 165.8 L289.8 168.5 L277.9 170.1 L266.0 170.9 L254.0 172.6 L240.8 175.5 L226.8 177.1 L214.1 179.3 L200.1 184.7 L189.1 192.0 L178.3 202.7 L168.1 213.4 L163.2 223.4 M371.7 127.4 L367.1 131.0 L361.9 135.0 L354.6 139.4 L345.7 144.5 L335.3 150.5 L322.6 156.4 L311.5 162.8 L299.2 167.5 L288.0 169.7 L276.1 171.2 L264.6 173.3 L252.4 176.1 L237.1 177.1 L222.0 180.8 L207.8 182.9 L193.3 189.0 L180.5 200.0 L168.6 213.0 L158.4 225.8 L153.6 237.7 M370.1 127.8 L364.6 131.5 L358.4 135.2 L350.2 139.8 L340.2 145.1 L329.2 151.2 L317.2 157.3 L305.6 164.6 L291.9 170.6 L279.1 174.7 L266.6 175.9 L251.1 180.4 L238.3 184.5 L222.7 188.9 L204.5 193.4 L187.1 199.7 L173.1 208.3 L160.6 217.8 L149.5 229.8 L140.6 242.0 L135.2 250.5 M370.8 126.7 L365.5 130.2 L359.4 134.0 L351.3 138.6 L341.7 143.5 L330.2 149.4 L318.9 156.0 L307.3 163.0 L295.5 167.7 L282.7 171.1 L270.2 174.0 L256.5 176.9 L242.6 180.1 L226.9 183.8 L211.1 187.0 L195.4 189.8 L181.3 196.6 L168.9 205.4 L157.0 215.0 L147.8 227.0 L140.7 235.9 M372.0 126.6 L367.3 130.1 L361.8 133.9 L354.7 138.1 L345.9 143.1 L334.4 148.3 L322.1 154.5 L310.5 160.3 L298.9 165.6 L286.9 167.6 L274.7 169.7 L262.7 172.3 L249.2 174.4 L234.7 177.1 L219.8 179.9 L204.9 184.0 L190.6 190.7 L178.5 200.0 L166.8 212.1 L156.9 225.2 L149.4 235.0 M370.8 126.5 L365.6 130.1 L359.5 134.0 L351.2 138.4 L341.8 143.2 L330.7 149.0 L318.0 154.4 L305.4 160.6 L293.8 166.0 L280.3 169.5 L268.7 171.7 L255.1 174.5 L241.1 177.3 L227.8 179.8 L211.0 183.6 L194.5 188.3 L180.8 194.4 L166.9 204.2 L157.2 214.2 L148.2 225.5 L142.5 236.3 M371.1 128.4 L365.9 133.0 L359.9 137.7 L351.3 143.1 L341.2 149.0 L329.6 155.3 L317.7 161.7 L305.3 169.4 L291.6 175.2 L278.4 181.8 L264.5 185.7 L249.8 191.0 L233.6 196.8 L217.9 203.3 L199.5 207.6 L182.1 216.5 L167.0 225.9 L155.0 238.3 L144.9 253.2 L135.6 267.5 L131.3 280.5 M370.7 128.2 L365.5 132.5 L359.4 136.8 L351.0 141.8 L341.7 147.3 L330.7 153.4 L318.6 159.8 L306.9 166.3 L293.8 172.3 L280.3 175.9 L266.9 179.8 L252.7 184.3 L239.0 187.4 L222.9 192.6 L207.3 197.0 L190.5 202.2 L175.1 210.7 L163.0 219.5 L152.5 232.4 L141.6 244.8 L135.8 257.1 M372.1 128.2 L367.4 132.1 L362.1 136.2 L354.6 140.9 L345.4 146.3 L335.0 151.9 L322.9 158.3 L310.4 165.4 L297.4 169.5 L285.4 173.7 L272.6 176.3 L260.6 178.8 L246.4 181.5 L232.6 185.2 L217.5 186.7 L204.5 191.3 L191.1 197.5 L178.4 208.8 L166.8 222.9 L159.0 236.3 L154.8 247.7 M369.9 128.8 L364.3 133.1 L357.8 137.8 L348.9 143.3 L339.0 149.7 L327.5 155.6 L316.0 161.0 L303.2 168.7 L290.3 175.4 L276.9 179.4 L262.8 184.7 L248.7 187.9 L233.1 193.6 L216.7 199.3 L199.1 203.7 L182.8 209.5 L167.0 220.2 L154.8 231.0 L143.4 243.7 L133.9 255.6 L127.6 267.3 M372.2 128.0 L367.5 132.0 L362.0 136.3 L354.2 141.6 L345.0 146.7 L334.3 152.4 L322.6 158.7 L310.3 165.2 L299.3 170.7 L286.7 174.4 L274.9 176.7 L262.0 179.6 L248.8 182.5 L235.4 185.9 L218.2 188.0 L203.9 193.9 L190.0 199.3 L176.8 210.4 L166.0 223.2 L157.1 235.7 L152.8 248.4" fill="none" stroke="#0d45de" stroke-opacity="0.34" stroke-width="0.8" stroke-linejoin="round"/>
<path d="M370.7 127.7 L365.3 131.3 L358.6 135.4 L349.6 141.0 L338.9 147.2 L325.0 153.4 L310.0 159.6 L298.2 167.2 L284.6 173.1 L268.8 178.6 L254.5 182.2 L238.3 187.4 L221.7 192.6 L202.7 197.2 L183.4 202.3 L163.5 210.2 L147.2 218.3 L134.7 230.4 L122.1 244.3 L114.8 258.5 L110.8 271.9 M369.5 127.5 L363.6 131.2 L356.7 135.6 L346.6 140.7 L334.7 146.8 L322.0 152.7 L307.3 159.4 L293.3 166.8 L277.2 174.0 L261.9 178.8 L245.7 182.3 L230.1 185.7 L211.6 191.9 L192.5 195.8 L172.2 202.4 L152.3 210.1 L135.0 218.8 L122.9 228.4 L111.4 240.9 L104.5 251.5 L100.1 260.6 M369.7 126.4 L364.2 129.6 L357.3 133.1 L347.1 137.9 L335.4 143.1 L321.8 149.2 L306.9 156.3 L293.6 163.6 L278.4 170.2 L262.3 175.1 L244.8 177.5 L228.6 180.7 L212.2 185.3 L192.7 190.6 L173.3 197.3 L155.3 203.2 L139.5 211.0 L126.1 218.0 L115.5 226.0 L106.4 233.5 L100.8 240.5 M371.3 127.7 L366.3 131.4 L360.1 135.8 L351.0 141.1 L339.8 147.8 L326.5 153.6 L312.7 160.8 L300.7 168.7 L287.5 174.8 L274.6 180.2 L260.8 183.3 L246.4 187.4 L230.3 191.6 L211.6 196.9 L192.1 202.2 L173.7 208.5 L157.3 216.8 L144.5 228.4 L132.7 244.7 L125.8 260.7 L124.7 275.5 M370.5 126.7 L365.2 129.9 L358.9 133.5 L349.1 138.2 L337.7 143.5 L324.1 149.3 L309.0 155.4 L295.0 163.2 L281.0 167.8 L264.6 171.6 L249.0 174.5 L233.7 177.6 L215.8 182.4 L198.1 187.6 L179.2 192.9 L161.1 199.8 L144.5 206.9 L131.9 214.6 L118.8 222.2 L108.1 229.3 L99.8 236.8 M371.8 127.5 L367.3 130.7 L361.5 134.7 L353.2 140.1 L342.2 145.9 L328.9 151.6 L315.4 158.0 L304.1 165.0 L293.1 168.6 L278.8 172.6 L265.3 176.5 L251.7 178.2 L237.6 182.1 L222.0 184.6 L206.0 188.3 L192.1 191.0 L178.2 196.9 L166.4 206.8 L155.0 218.8 L145.9 230.0 L142.1 241.6 M371.8 126.4 L367.5 129.5 L361.8 133.0 L353.2 138.1 L342.6 143.4 L328.4 149.2 L314.3 155.1 L304.4 160.3 L293.5 164.7 L280.6 169.5 L267.6 170.4 L254.0 172.5 L241.5 175.7 L228.1 177.5 L213.0 179.5 L200.1 182.4 L188.6 188.3 L175.0 195.6 L161.7 206.7 L152.4 216.7 L147.2 226.2 M370.4 126.8 L365.1 130.1 L358.7 134.0 L349.2 139.3 L337.8 145.2 L324.2 151.1 L309.8 157.1 L296.6 163.6 L282.8 169.0 L267.7 172.4 L252.3 175.1 L236.1 180.3 L219.4 183.6 L204.7 189.8 L184.3 193.9 L168.8 200.0 L154.2 206.8 L141.2 216.0 L129.3 229.7 L120.1 240.6 L114.9 251.1 M370.2 127.7 L364.8 131.3 L358.2 135.4 L349.0 140.8 L337.7 147.7 L323.8 154.0 L309.2 160.4 L296.3 167.7 L283.8 175.4 L267.4 179.3 L252.5 183.0 L237.2 186.7 L220.4 191.5 L200.5 197.0 L180.9 203.5 L163.6 209.7 L147.5 218.6 L135.4 232.1 L123.1 247.3 L115.7 262.6 L112.8 276.6 M370.4 127.7 L364.8 131.6 L358.4 135.9 L348.9 141.5 L337.6 147.3 L324.3 154.0 L310.1 160.1 L296.4 167.4 L283.0 173.3 L267.5 178.5 L253.7 180.2 L238.3 185.1 L221.8 189.9 L202.6 193.9 L185.3 198.2 L165.6 203.6 L148.8 212.5 L136.9 224.0 L125.5 236.6 L116.3 249.7 L110.6 263.2" fill="none" stroke="#cb0520" stroke-opacity="0.36" stroke-width="0.8" stroke-linejoin="round"/>
<path d="M2.9 297.0 L11.4 287.0 L25.7 281.4 L37.0 281.4 L57.0 281.4 L70.0 284.0" fill="none" stroke="#cb0520" stroke-opacity="0.36" stroke-width="0.8" stroke-linejoin="round"/>
<path d="M150.0 192.0 L120.0 200.0 L94.0 208.6 L71.4 220.0 L54.3 234.3 L42.9 248.6 L35.7 265.7 L34.3 280.0 L38.6 288.6" fill="none" stroke="#cb0520" stroke-opacity="0.36" stroke-width="0.8" stroke-linejoin="round"/>
<path d="M45.7 291.4 L48.6 305.7 L54.3 320.0 L58.0 332.0" fill="none" stroke="#cb0520" stroke-opacity="0.36" stroke-width="0.8" stroke-linejoin="round"/>
<path d="M320.0 150.0 L285.0 158.0 L245.0 166.0 L205.0 178.0 L170.0 190.0 L140.0 204.0 L118.0 220.0" fill="none" stroke="#cb0520" stroke-opacity="0.36" stroke-width="0.8" stroke-linejoin="round"/>
<path d="M325.0 148.0 L290.0 154.0 L250.0 160.0 L215.0 168.0 L185.0 176.0 L160.0 186.0 L135.0 200.0 L110.0 215.0 L95.0 228.0" fill="none" stroke="#cb0520" stroke-opacity="0.36" stroke-width="0.8" stroke-linejoin="round"/>
<path d="M335.0 146.0 L300.0 150.0 L260.0 153.0 L225.0 158.0 L190.0 166.0 L165.0 176.0" fill="none" stroke="#cb0520" stroke-opacity="0.36" stroke-width="0.8" stroke-linejoin="round"/>
<path d="M75.0 296.0 L69.0 317.0 L60.0 332.0 L45.0 359.0 L40.5 377.0 L39.0 393.5 L43.5 399.5" fill="none" stroke="#cb0520" stroke-opacity="0.36" stroke-width="0.8" stroke-linejoin="round"/>
<path d="M60.0 293.0 L60.0 308.0 L64.5 320.0 L78.0 318.5 L103.5 321.5 L103.5 326.0 L96.0 324.5" fill="none" stroke="#cb0520" stroke-opacity="0.36" stroke-width="0.8" stroke-linejoin="round"/>
<path d="M78.0 299.0 L76.5 320.0 L81.0 338.0 L96.0 353.0 L126.0 365.0 L156.0 377.0 L195.0 381.5 L210.0 377.0 L225.0 370.0 L263.0 364.8 L294.0 367.0 L332.0 368.6" fill="none" stroke="#cb0520" stroke-opacity="0.36" stroke-width="0.8" stroke-linejoin="round"/>
<path d="M144.0 335.0 L151.5 344.0 L150.0 351.5 L144.6 356.6" fill="none" stroke="#cb0520" stroke-opacity="0.36" stroke-width="0.8" stroke-linejoin="round"/>
<path d="M160.0 320.0 L200.0 342.0 L244.0 367.0 L303.7 398.4 L404.0 444.0 L420.0 452.0" fill="none" stroke="#cb0520" stroke-opacity="0.36" stroke-width="0.8" stroke-linejoin="round"/>
<path d="M170.0 290.0 L200.0 298.0 L222.0 304.0 L250.0 307.0 L285.0 304.0 L307.0 312.0 L330.4 322.0" fill="none" stroke="#cb0520" stroke-opacity="0.36" stroke-width="0.8" stroke-linejoin="round"/>
<path d="M170.0 318.0 L200.0 327.7 L219.0 334.0 L244.0 340.0 L256.6 342.0 L288.0 349.7 L329.0 364.8 L363.4 367.0 L420.0 372.0" fill="none" stroke="#cb0520" stroke-opacity="0.36" stroke-width="0.8" stroke-linejoin="round"/>
<path d="M256.6 342.0 L278.6 338.7 L297.4 334.0 L303.7 324.6 L308.4 321.4 L311.6 312.6" fill="none" stroke="#cb0520" stroke-opacity="0.36" stroke-width="0.8" stroke-linejoin="round"/>
<path d="M242.4 295.7 L230.0 301.0 L222.0 305.0 L222.0 310.4 L200.0 320.0 L180.0 325.0" fill="none" stroke="#cb0520" stroke-opacity="0.36" stroke-width="0.8" stroke-linejoin="round"/>
<path d="M330.0 148.0 L300.0 152.0 L264.0 157.0 L225.0 166.0 L200.0 173.0 L180.0 179.6 L154.0 181.0 L123.0 188.6 L95.0 199.0 L77.0 209.0 L64.0 222.0 L51.4 237.4 L38.6 258.0 L33.4 276.0" fill="none" stroke="#cb0520" stroke-opacity="0.36" stroke-width="0.8" stroke-linejoin="round"/>
<path d="M56.7 199.4 L62.9 216.5 L76.3 231.2 L95.9 236.1 L105.7 228.8" fill="none" stroke="#cb0520" stroke-opacity="0.36" stroke-width="0.8" stroke-linejoin="round"/>
<path d="M180.0 188.0 L140.0 195.7 L118.0 200.6 L98.4 200.6 L81.2 203.1 L80.0 209.2 L81.2 219.0 L78.8 231.2 L69.0 243.5 L60.4 253.3 L64.1 265.5" fill="none" stroke="#cb0520" stroke-opacity="0.36" stroke-width="0.8" stroke-linejoin="round"/>
<path d="M180.0 196.0 L140.0 204.3 L122.9 210.4 L105.7 219.0 L91.0 231.2 L81.2 241.0 L76.3 253.3 L69.0 260.6 L72.7 270.4 L83.7 272.9" fill="none" stroke="#cb0520" stroke-opacity="0.36" stroke-width="0.8" stroke-linejoin="round"/>
<path d="M150.0 207.0 L125.3 216.5 L110.6 225.1 L98.4 233.7 L93.5 243.5 L86.1 248.4 L76.3 250.8 L64.1 254.5 L62.9 260.6" fill="none" stroke="#cb0520" stroke-opacity="0.36" stroke-width="0.8" stroke-linejoin="round"/>
<path d="M160.0 190.0 L122.9 199.4 L100.8 209.2 L83.7 222.7 L78.8 230.0 L86.1 233.7 L98.4 228.8" fill="none" stroke="#cb0520" stroke-opacity="0.36" stroke-width="0.8" stroke-linejoin="round"/>
<path d="M76.3 200.6 L82.5 209.2 L100.8 205.5 L118.0 201.8 L144.0 192.4 L180.0 173.0" fill="none" stroke="#0d45de" stroke-opacity="0.34" stroke-width="0.8" stroke-linejoin="round"/>
<path d="M82.5 209.2 L93.5 217.8 L105.7 225.1 L118.0 227.6" fill="none" stroke="#0d45de" stroke-opacity="0.34" stroke-width="0.8" stroke-linejoin="round"/>
<path d="M180.0 300.0 L200.0 309.5 L223.6 319.0" fill="none" stroke="#0d45de" stroke-opacity="0.34" stroke-width="0.8" stroke-linejoin="round"/>
<path d="M140.0 225.0 L122.0 240.0 L108.0 255.0 L98.0 268.0 L92.0 280.0 L97.0 290.0 L106.0 296.0" fill="none" stroke="#0d45de" stroke-opacity="0.34" stroke-width="0.8" stroke-linejoin="round"/>
<path d="M150.0 222.0 L130.0 238.0 L116.0 254.0 L104.0 270.0 L100.0 284.0 L108.0 292.0 L118.0 300.0 L126.0 306.0" fill="none" stroke="#0d45de" stroke-opacity="0.34" stroke-width="0.8" stroke-linejoin="round"/>
<path d="M145.0 228.0 L128.0 246.0 L114.0 262.0 L108.0 276.0 L112.0 288.0 L104.0 300.0" fill="none" stroke="#0d45de" stroke-opacity="0.34" stroke-width="0.8" stroke-linejoin="round"/>
<path d="M148.0 230.0 L134.0 248.0 L122.0 264.0 L112.0 276.0 L96.0 282.0 L90.0 274.0" fill="none" stroke="#0d45de" stroke-opacity="0.34" stroke-width="0.8" stroke-linejoin="round"/>
<path d="M152.0 226.0 L138.0 244.0 L126.0 262.0 L120.0 280.0 L124.0 294.0 L134.0 304.0 L140.0 312.0" fill="none" stroke="#0d45de" stroke-opacity="0.34" stroke-width="0.8" stroke-linejoin="round"/>
<path d="M330.0 151.0 L300.0 168.0 L288.0 178.0 L252.0 203.0 L216.0 220.0 L192.0 233.0 L177.0 246.0 L170.0 262.0" fill="none" stroke="#0d45de" stroke-opacity="0.34" stroke-width="0.8" stroke-linejoin="round"/>
<path d="M330.0 152.0 L305.0 167.0 L280.0 186.0 L250.0 208.0 L222.0 224.0 L200.0 236.0 L184.0 250.0 L178.0 268.0 L186.0 285.0" fill="none" stroke="#0d45de" stroke-opacity="0.34" stroke-width="0.8" stroke-linejoin="round"/>
<path d="M335.0 149.0 L300.0 166.0 L270.0 184.0 L240.0 204.0 L212.0 216.0 L190.0 228.0 L172.0 240.0 L163.0 256.0" fill="none" stroke="#0d45de" stroke-opacity="0.34" stroke-width="0.8" stroke-linejoin="round"/>
<path d="M330.0 150.0 L295.0 170.0 L262.0 192.0 L236.0 212.0 L210.0 228.0 L188.0 243.0 L176.0 258.0" fill="none" stroke="#0d45de" stroke-opacity="0.34" stroke-width="0.8" stroke-linejoin="round"/>
<path d="M325.0 150.0 L290.0 160.0 L255.0 166.0 L225.0 170.0 L195.0 172.0 L170.0 176.0 L150.0 184.0 L135.0 196.0" fill="none" stroke="#0d45de" stroke-opacity="0.34" stroke-width="0.8" stroke-linejoin="round"/>
<path d="M325.0 149.0 L290.0 156.0 L250.0 158.0 L215.0 160.0 L185.0 164.0 L160.0 170.0 L140.0 180.0 L125.0 195.0 L118.0 212.0" fill="none" stroke="#0d45de" stroke-opacity="0.34" stroke-width="0.8" stroke-linejoin="round"/>
<path d="M330.0 148.0 L290.0 155.0 L250.0 157.0 L210.0 160.0 L180.0 165.0 L155.0 173.0" fill="none" stroke="#0d45de" stroke-opacity="0.34" stroke-width="0.8" stroke-linejoin="round"/>
<path d="M185.0 312.0 L200.0 318.3 L220.4 323.0 L278.6 322.4" fill="none" stroke="#0d45de" stroke-opacity="0.34" stroke-width="0.8" stroke-linejoin="round"/>
<path d="M371.0 127.0 L340.0 145.0 L300.0 164.0 L260.0 180.0 L225.0 190.0 L195.0 197.0 L172.0 205.0 L160.0 218.0 L156.0 235.0 L158.0 250.0 L163.0 262.0" fill="none" stroke="#1fa01f" stroke-opacity="0.35" stroke-width="0.65" stroke-linejoin="round"/>
<path d="M371.0 127.0 L338.0 146.0 L296.0 166.0 L255.0 183.0 L220.0 193.0 L190.0 202.0 L170.0 214.0 L164.0 230.0 L168.0 246.0 L176.0 262.0 L186.0 280.0 L200.0 300.0" fill="none" stroke="#1fa01f" stroke-opacity="0.35" stroke-width="0.65" stroke-linejoin="round"/>
<path d="M175.0 300.0 L200.0 327.7 L212.6 334.0 L220.4 341.9" fill="none" stroke="#1fa01f" stroke-opacity="0.35" stroke-width="0.65" stroke-linejoin="round"/>
<ellipse cx="370.6" cy="127.4" rx="1.5" ry="1.5" transform="rotate(0 370.6 127.4)" fill="none" stroke="#000" stroke-width="4.5"/><ellipse cx="370.6" cy="127.4" rx="1.5" ry="1.5" transform="rotate(0 370.6 127.4)" fill="none" stroke="#cb0520" stroke-width="2.8"/>
<ellipse cx="338.3" cy="146.3" rx="4.6" ry="4.4" transform="rotate(-20 338.3 146.3)" fill="none" stroke="#000" stroke-width="4.5"/><ellipse cx="338.3" cy="146.3" rx="4.6" ry="4.4" transform="rotate(-20 338.3 146.3)" fill="none" stroke="#cb0520" stroke-width="2.8"/>
<ellipse cx="310.5" cy="159.0" rx="5.2" ry="4.6" transform="rotate(-20 310.5 159.0)" fill="none" stroke="#fff" stroke-width="4.5"/><ellipse cx="310.5" cy="159.0" rx="5.2" ry="4.6" transform="rotate(-20 310.5 159.0)" fill="none" stroke="#cb0520" stroke-width="2.8"/>
<ellipse cx="284.5" cy="172.5" rx="10.0" ry="7.0" transform="rotate(-25 284.5 172.5)" fill="none" stroke="#000" stroke-width="4.5"/><ellipse cx="284.5" cy="172.5" rx="10.0" ry="7.0" transform="rotate(-25 284.5 172.5)" fill="none" stroke="#cb0520" stroke-width="2.8"/>
<ellipse cx="222.9" cy="188.7" rx="19.0" ry="9.5" transform="rotate(-25 222.9 188.7)" fill="none" stroke="#000" stroke-width="4.5"/><ellipse cx="222.9" cy="188.7" rx="19.0" ry="9.5" transform="rotate(-25 222.9 188.7)" fill="none" stroke="#cb0520" stroke-width="2.8"/>
<ellipse cx="151.4" cy="213.2" rx="32.4" ry="9.6" transform="rotate(-29.8 151.4 213.2)" fill="none" stroke="#000" stroke-width="4.5"/><ellipse cx="151.4" cy="213.2" rx="32.4" ry="9.6" transform="rotate(-29.8 151.4 213.2)" fill="none" stroke="#cb0520" stroke-width="2.8"/>
<ellipse cx="113.6" cy="262.6" rx="34.4" ry="23.8" transform="rotate(-52.3 113.6 262.6)" fill="none" stroke="#000" stroke-width="4.5"/><ellipse cx="113.6" cy="262.6" rx="34.4" ry="23.8" transform="rotate(-52.3 113.6 262.6)" fill="none" stroke="#cb0520" stroke-width="2.8"/>
<ellipse cx="134.2" cy="294.7" rx="57.6" ry="32.6" transform="rotate(33.7 134.2 294.7)" fill="none" stroke="#000" stroke-width="4.5"/><ellipse cx="134.2" cy="294.7" rx="57.6" ry="32.6" transform="rotate(33.7 134.2 294.7)" fill="none" stroke="#cb0520" stroke-width="2.8"/>
<ellipse cx="152.7" cy="296.0" rx="108.8" ry="39.0" transform="rotate(22.8 152.7 296.0)" fill="none" stroke="#000" stroke-width="4.5"/><ellipse cx="152.7" cy="296.0" rx="108.8" ry="39.0" transform="rotate(22.8 152.7 296.0)" fill="none" stroke="#cb0520" stroke-width="2.8"/>
<ellipse cx="360.0" cy="135.0" rx="3.8" ry="3.6" transform="rotate(-20 360.0 135.0)" fill="none" stroke="#fff" stroke-width="4.5"/><ellipse cx="360.0" cy="135.0" rx="3.8" ry="3.6" transform="rotate(-20 360.0 135.0)" fill="none" stroke="#0d45de" stroke-width="2.8"/>
<ellipse cx="342.5" cy="145.0" rx="5.5" ry="4.5" transform="rotate(-20 342.5 145.0)" fill="none" stroke="#000" stroke-width="4.5"/><ellipse cx="342.5" cy="145.0" rx="5.5" ry="4.5" transform="rotate(-20 342.5 145.0)" fill="none" stroke="#0d45de" stroke-width="2.8"/>
<ellipse cx="319.5" cy="156.5" rx="5.6" ry="5.2" transform="rotate(-20 319.5 156.5)" fill="none" stroke="#fff" stroke-width="4.5"/><ellipse cx="319.5" cy="156.5" rx="5.6" ry="5.2" transform="rotate(-20 319.5 156.5)" fill="none" stroke="#0d45de" stroke-width="2.8"/>
<ellipse cx="295.0" cy="168.5" rx="8.4" ry="5.6" transform="rotate(-48 295.0 168.5)" fill="none" stroke="#000" stroke-width="4.5"/><ellipse cx="295.0" cy="168.5" rx="8.4" ry="5.6" transform="rotate(-48 295.0 168.5)" fill="none" stroke="#0d45de" stroke-width="2.8"/>
<ellipse cx="243.5" cy="179.6" rx="14.9" ry="7.9" transform="rotate(-48 243.5 179.6)" fill="none" stroke="#000" stroke-width="4.5"/><ellipse cx="243.5" cy="179.6" rx="14.9" ry="7.9" transform="rotate(-48 243.5 179.6)" fill="none" stroke="#0d45de" stroke-width="2.8"/>
<ellipse cx="182.6" cy="197.5" rx="24.9" ry="10.9" transform="rotate(-52 182.6 197.5)" fill="none" stroke="#000" stroke-width="4.5"/><ellipse cx="182.6" cy="197.5" rx="24.9" ry="10.9" transform="rotate(-52 182.6 197.5)" fill="none" stroke="#0d45de" stroke-width="2.8"/>
<ellipse cx="143.5" cy="240.1" rx="30.6" ry="17.9" transform="rotate(-76 143.5 240.1)" fill="none" stroke="#000" stroke-width="4.5"/><ellipse cx="143.5" cy="240.1" rx="30.6" ry="17.9" transform="rotate(-76 143.5 240.1)" fill="none" stroke="#0d45de" stroke-width="2.8"/>
<ellipse cx="151.75" cy="266.5" rx="48.4" ry="27.8" transform="rotate(39.2 151.75 266.5)" fill="none" stroke="#000" stroke-width="4.5"/><ellipse cx="151.75" cy="266.5" rx="48.4" ry="27.8" transform="rotate(39.2 151.75 266.5)" fill="none" stroke="#0d45de" stroke-width="2.8"/>
<g transform="rotate(-25 372.5 125.5)"><rect x="370.30" y="123.10" width="4.4" height="4.8" rx="1.3" fill="#fff" fill-opacity="0.95"/><text x="372.5" y="127.05" font-size="4.5" text-anchor="middle" fill="#111" stroke="#111" stroke-width="0.12" textLength="2.8" lengthAdjust="spacingAndGlyphs">0</text></g>
<g transform="rotate(-20 360 132.5)"><rect x="356.50" y="130.10" width="7.0" height="4.8" rx="1.3" fill="#fff" fill-opacity="0.95"/><text x="360" y="134.05" font-size="4.5" text-anchor="middle" fill="#111" stroke="#111" stroke-width="0.12" textLength="5.4" lengthAdjust="spacingAndGlyphs">12</text></g>
<g transform="rotate(-25 338.3 142.6)"><rect x="334.80" y="140.20" width="7.0" height="4.8" rx="1.3" fill="#fff" fill-opacity="0.95"/><text x="338.3" y="144.15" font-size="4.5" text-anchor="middle" fill="#111" stroke="#111" stroke-width="0.12" textLength="5.4" lengthAdjust="spacingAndGlyphs">24</text></g>
<g transform="rotate(-25 341.3 142.9)"><rect x="337.80" y="140.50" width="7.0" height="4.8" rx="1.3" fill="#fff" fill-opacity="0.95"/><text x="341.3" y="144.45" font-size="4.5" text-anchor="middle" fill="#111" stroke="#111" stroke-width="0.12" textLength="5.4" lengthAdjust="spacingAndGlyphs">24</text></g>
<g transform="rotate(-25 309 153)"><rect x="305.50" y="150.60" width="7.0" height="4.8" rx="1.3" fill="#fff" fill-opacity="0.95"/><text x="309" y="154.55" font-size="4.5" text-anchor="middle" fill="#111" stroke="#111" stroke-width="0.12" textLength="5.4" lengthAdjust="spacingAndGlyphs">36</text></g>
<g transform="rotate(-25 315 153)"><rect x="311.50" y="150.60" width="7.0" height="4.8" rx="1.3" fill="#fff" fill-opacity="0.95"/><text x="315" y="154.55" font-size="4.5" text-anchor="middle" fill="#111" stroke="#111" stroke-width="0.12" textLength="5.4" lengthAdjust="spacingAndGlyphs">36</text></g>
<g transform="rotate(-25 281.5 165.5)"><rect x="278.00" y="163.10" width="7.0" height="4.8" rx="1.3" fill="#fff" fill-opacity="0.95"/><text x="281.5" y="167.05" font-size="4.5" text-anchor="middle" fill="#111" stroke="#111" stroke-width="0.12" textLength="5.4" lengthAdjust="spacingAndGlyphs">48</text></g>
<g transform="rotate(-30 291.2 164.5)"><rect x="287.70" y="162.10" width="7.0" height="4.8" rx="1.3" fill="#fff" fill-opacity="0.95"/><text x="291.2" y="166.05" font-size="4.5" text-anchor="middle" fill="#111" stroke="#111" stroke-width="0.12" textLength="5.4" lengthAdjust="spacingAndGlyphs">48</text></g>
<g transform="rotate(-20 220 180)"><rect x="216.50" y="177.60" width="7.0" height="4.8" rx="1.3" fill="#fff" fill-opacity="0.95"/><text x="220" y="181.55" font-size="4.5" text-anchor="middle" fill="#111" stroke="#111" stroke-width="0.12" textLength="5.4" lengthAdjust="spacingAndGlyphs">72</text></g>
<g transform="rotate(-45 238 174)"><rect x="234.50" y="171.60" width="7.0" height="4.8" rx="1.3" fill="#fff" fill-opacity="0.95"/><text x="238" y="175.55" font-size="4.5" text-anchor="middle" fill="#111" stroke="#111" stroke-width="0.12" textLength="5.4" lengthAdjust="spacingAndGlyphs">72</text></g>
<g transform="rotate(-30 146.5 204.4)"><rect x="143.00" y="202.00" width="7.0" height="4.8" rx="1.3" fill="#fff" fill-opacity="0.95"/><text x="146.5" y="205.95" font-size="4.5" text-anchor="middle" fill="#111" stroke="#111" stroke-width="0.12" textLength="5.4" lengthAdjust="spacingAndGlyphs">96</text></g>
<g transform="rotate(-30 155.8 221.2)"><rect x="152.30" y="218.80" width="7.0" height="4.8" rx="1.3" fill="#fff" fill-opacity="0.95"/><text x="155.8" y="222.75" font-size="4.5" text-anchor="middle" fill="#111" stroke="#111" stroke-width="0.12" textLength="5.4" lengthAdjust="spacingAndGlyphs">96</text></g>
<g transform="rotate(-40 175.6 191)"><rect x="172.10" y="188.60" width="7.0" height="4.8" rx="1.3" fill="#fff" fill-opacity="0.95"/><text x="175.6" y="192.55" font-size="4.5" text-anchor="middle" fill="#111" stroke="#111" stroke-width="0.12" textLength="5.4" lengthAdjust="spacingAndGlyphs">96</text></g>
<g transform="rotate(-58 189.6 203)"><rect x="186.10" y="200.60" width="7.0" height="4.8" rx="1.3" fill="#fff" fill-opacity="0.95"/><text x="189.6" y="204.55" font-size="4.5" text-anchor="middle" fill="#111" stroke="#111" stroke-width="0.12" textLength="5.4" lengthAdjust="spacingAndGlyphs">96</text></g>
<g transform="rotate(-80 126.7 236.6)"><rect x="121.90" y="234.20" width="9.6" height="4.8" rx="1.3" fill="#fff" fill-opacity="0.95"/><text x="126.7" y="238.15" font-size="4.5" text-anchor="middle" fill="#111" stroke="#111" stroke-width="0.12" textLength="8.0" lengthAdjust="spacingAndGlyphs">120</text></g>
<g transform="rotate(-75 159.3 245.2)"><rect x="154.50" y="242.80" width="9.6" height="4.8" rx="1.3" fill="#fff" fill-opacity="0.95"/><text x="159.3" y="246.75" font-size="4.5" text-anchor="middle" fill="#111" stroke="#111" stroke-width="0.12" textLength="8.0" lengthAdjust="spacingAndGlyphs">120</text></g>
<g transform="rotate(50 169.6 245.2)"><rect x="164.80" y="242.80" width="9.6" height="4.8" rx="1.3" fill="#fff" fill-opacity="0.95"/><text x="169.6" y="246.75" font-size="4.5" text-anchor="middle" fill="#111" stroke="#111" stroke-width="0.12" textLength="8.0" lengthAdjust="spacingAndGlyphs">144</text></g>
<g transform="rotate(25 167.1 260.6)"><rect x="162.30" y="258.20" width="9.6" height="4.8" rx="1.3" fill="#fff" fill-opacity="0.95"/><text x="167.1" y="262.15" font-size="4.5" text-anchor="middle" fill="#111" stroke="#111" stroke-width="0.12" textLength="8.0" lengthAdjust="spacingAndGlyphs">168</text></g>
<g transform="rotate(-50 94.9 247.7)"><rect x="90.10" y="245.30" width="9.6" height="4.8" rx="1.3" fill="#fff" fill-opacity="0.95"/><text x="94.9" y="249.25" font-size="4.5" text-anchor="middle" fill="#111" stroke="#111" stroke-width="0.12" textLength="8.0" lengthAdjust="spacingAndGlyphs">120</text></g>
<g transform="rotate(55 154.2 268.5)"><rect x="149.40" y="266.10" width="9.6" height="4.8" rx="1.3" fill="#fff" fill-opacity="0.95"/><text x="154.2" y="270.05" font-size="4.5" text-anchor="middle" fill="#111" stroke="#111" stroke-width="0.12" textLength="8.0" lengthAdjust="spacingAndGlyphs">144</text></g>
<g transform="rotate(-55 132.1 275.8)"><rect x="127.30" y="273.40" width="9.6" height="4.8" rx="1.3" fill="#fff" fill-opacity="0.95"/><text x="132.1" y="277.35" font-size="4.5" text-anchor="middle" fill="#111" stroke="#111" stroke-width="0.12" textLength="8.0" lengthAdjust="spacingAndGlyphs">120</text></g>
<g transform="rotate(55 134.1 286.8)"><rect x="129.30" y="284.40" width="9.6" height="4.8" rx="1.3" fill="#fff" fill-opacity="0.95"/><text x="134.1" y="288.35" font-size="4.5" text-anchor="middle" fill="#111" stroke="#111" stroke-width="0.12" textLength="8.0" lengthAdjust="spacingAndGlyphs">144</text></g>
<g transform="rotate(35 117.1 321.8)"><rect x="112.30" y="319.40" width="9.6" height="4.8" rx="1.3" fill="#fff" fill-opacity="0.95"/><text x="117.1" y="323.35" font-size="4.5" text-anchor="middle" fill="#111" stroke="#111" stroke-width="0.12" textLength="8.0" lengthAdjust="spacingAndGlyphs">144</text></g>
<g transform="rotate(20 138.5 330.3)"><rect x="133.70" y="327.90" width="9.6" height="4.8" rx="1.3" fill="#fff" fill-opacity="0.95"/><text x="138.5" y="331.85" font-size="4.5" text-anchor="middle" fill="#111" stroke="#111" stroke-width="0.12" textLength="8.0" lengthAdjust="spacingAndGlyphs">168</text></g>
<circle cx="154" cy="44.2" r="1.25" fill="#000"/>
<path d="M95.2 351.2 L99.6 350.6 L97.6 355.2 Z" fill="none" stroke="#c2102a" stroke-opacity="0.45" stroke-width="0.7"/>
</g>
<text x="6.00" y="47.25" font-size="5.0" text-anchor="start" fill="#1c1c1c" textLength="17.40" lengthAdjust="spacingAndGlyphs" transform="rotate(-25 6.00 47.25)">7.5°S</text>
<text x="6.00" y="76.50" font-size="5.0" text-anchor="start" fill="#1c1c1c" textLength="12.40" lengthAdjust="spacingAndGlyphs" transform="rotate(-25 6.00 76.50)">10°S</text>
<text x="6.00" y="105.75" font-size="5.0" text-anchor="start" fill="#1c1c1c" textLength="17.40" lengthAdjust="spacingAndGlyphs" transform="rotate(-25 6.00 105.75)">12.5°S</text>
<text x="6.00" y="135.00" font-size="5.0" text-anchor="start" fill="#1c1c1c" textLength="12.40" lengthAdjust="spacingAndGlyphs" transform="rotate(-25 6.00 135.00)">15°S</text>
<text x="6.00" y="164.25" font-size="5.0" text-anchor="start" fill="#1c1c1c" textLength="17.40" lengthAdjust="spacingAndGlyphs" transform="rotate(-25 6.00 164.25)">17.5°S</text>
<text x="6.00" y="193.50" font-size="5.0" text-anchor="start" fill="#1c1c1c" textLength="12.40" lengthAdjust="spacingAndGlyphs" transform="rotate(-25 6.00 193.50)">20°S</text>
<text x="6.00" y="222.75" font-size="5.0" text-anchor="start" fill="#1c1c1c" textLength="17.40" lengthAdjust="spacingAndGlyphs" transform="rotate(-25 6.00 222.75)">22.5°S</text>
<text x="6.00" y="252.00" font-size="5.0" text-anchor="start" fill="#1c1c1c" textLength="12.40" lengthAdjust="spacingAndGlyphs" transform="rotate(-25 6.00 252.00)">25°S</text>
<text x="6.00" y="281.25" font-size="5.0" text-anchor="start" fill="#1c1c1c" textLength="17.40" lengthAdjust="spacingAndGlyphs" transform="rotate(-25 6.00 281.25)">27.5°S</text>
<text x="6.00" y="310.50" font-size="5.0" text-anchor="start" fill="#1c1c1c" textLength="12.40" lengthAdjust="spacingAndGlyphs" transform="rotate(-25 6.00 310.50)">30°S</text>
<text x="6.00" y="339.75" font-size="5.0" text-anchor="start" fill="#1c1c1c" textLength="17.40" lengthAdjust="spacingAndGlyphs" transform="rotate(-25 6.00 339.75)">32.5°S</text>
<text x="6.00" y="369.00" font-size="5.0" text-anchor="start" fill="#1c1c1c" textLength="12.40" lengthAdjust="spacingAndGlyphs" transform="rotate(-25 6.00 369.00)">35°S</text>
<text x="6.00" y="398.25" font-size="5.0" text-anchor="start" fill="#1c1c1c" textLength="17.40" lengthAdjust="spacingAndGlyphs" transform="rotate(-25 6.00 398.25)">37.5°S</text>
<text x="6.00" y="427.50" font-size="5.0" text-anchor="start" fill="#1c1c1c" textLength="12.40" lengthAdjust="spacingAndGlyphs" transform="rotate(-25 6.00 427.50)">40°S</text>
<text x="67.40" y="457.80" font-size="5.0" text-anchor="middle" fill="#1c1c1c" textLength="11.60" lengthAdjust="spacingAndGlyphs">65°E</text>
<text x="125.90" y="457.80" font-size="5.0" text-anchor="middle" fill="#1c1c1c" textLength="11.60" lengthAdjust="spacingAndGlyphs">70°E</text>
<text x="184.40" y="457.80" font-size="5.0" text-anchor="middle" fill="#1c1c1c" textLength="11.60" lengthAdjust="spacingAndGlyphs">75°E</text>
<text x="242.90" y="457.80" font-size="5.0" text-anchor="middle" fill="#1c1c1c" textLength="11.60" lengthAdjust="spacingAndGlyphs">80°E</text>
<text x="301.40" y="457.80" font-size="5.0" text-anchor="middle" fill="#1c1c1c" textLength="11.60" lengthAdjust="spacingAndGlyphs">85°E</text>
<text x="359.90" y="457.80" font-size="5.0" text-anchor="middle" fill="#1c1c1c" textLength="11.60" lengthAdjust="spacingAndGlyphs">90°E</text>
<text x="6.00" y="455.60" font-size="4.6" text-anchor="start" fill="#333" textLength="10.50" lengthAdjust="spacingAndGlyphs" transform="rotate(22 6.00 455.60)">60°E</text>
<text x="407.50" y="453.00" font-size="4.6" text-anchor="start" fill="#333" textLength="10.50" lengthAdjust="spacingAndGlyphs" transform="rotate(50 407.50 453.00)">95°E</text>
<text x="6.00" y="460.30" font-size="2.5" text-anchor="start" fill="#222" textLength="19.70" lengthAdjust="spacingAndGlyphs" font-weight="bold">2024-01-25 00:13</text>
<rect x="3.0" y="30.15" width="416.4" height="432.2" fill="none" stroke="#000" stroke-width="2.45"/>
<rect x="7.6" y="34.3" width="124.4" height="44.2" rx="2" ry="2" fill="#fff" fill-opacity="0.92" stroke="#cfcfcf" stroke-width="0.8"/>
<circle cx="21.7" cy="42.50" r="5.2" fill="#c5001f"/>
<text x="39.20" y="46.10" font-size="10.1" text-anchor="start" fill="#222" textLength="54.40" lengthAdjust="spacingAndGlyphs">GEFS (18Z)</text>
<circle cx="21.7" cy="56.25" r="5.2" fill="#0f44e2"/>
<text x="39.20" y="59.85" font-size="10.1" text-anchor="start" fill="#222" textLength="65.60" lengthAdjust="spacingAndGlyphs">ECMWF (18Z)</text>
<circle cx="21.7" cy="70.00" r="5.2" fill="#1fb41f"/>
<text x="39.20" y="73.60" font-size="10.1" text-anchor="start" fill="#222" textLength="88.80" lengthAdjust="spacingAndGlyphs">MOGREPS-G (18Z)</text>
<rect x="446.90" y="17.65" width="215.10" height="61.70" fill="#fff5f0"/>
<rect x="446.90" y="17.65" width="7.64" height="14.00" fill="#67000d"/>
<rect x="526.97" y="17.65" width="14.49" height="14.00" fill="#fdd4c2"/>
<rect x="541.46" y="17.65" width="21.73" height="14.00" fill="#fca082"/>
<rect x="563.19" y="17.65" width="36.22" height="14.00" fill="#fdd4c2"/>
<rect x="613.89" y="17.65" width="14.49" height="14.00" fill="#fdd4c2"/>
<rect x="635.62" y="17.65" width="14.49" height="14.00" fill="#fdd4c2"/>
<rect x="657.35" y="17.65" width="4.65" height="14.00" fill="#fdd4c2"/>
<rect x="446.90" y="31.65" width="7.64" height="13.50" fill="#fca082"/>
<rect x="454.54" y="31.65" width="43.46" height="13.50" fill="#67000d"/>
<rect x="498.00" y="31.65" width="14.49" height="13.50" fill="#b21218"/>
<rect x="512.49" y="31.65" width="14.49" height="13.50" fill="#67000d"/>
<rect x="526.97" y="31.65" width="7.24" height="13.50" fill="#b21218"/>
<rect x="534.22" y="31.65" width="50.70" height="13.50" fill="#67000d"/>
<rect x="584.92" y="31.65" width="7.24" height="13.50" fill="#b21218"/>
<rect x="592.16" y="31.65" width="21.73" height="13.50" fill="#e32f27"/>
<rect x="613.89" y="31.65" width="7.24" height="13.50" fill="#fb6a4a"/>
<rect x="621.13" y="31.65" width="7.24" height="13.50" fill="#fca082"/>
<rect x="628.38" y="31.65" width="7.24" height="13.50" fill="#fb6a4a"/>
<rect x="635.62" y="31.65" width="21.73" height="13.50" fill="#fdd4c2"/>
<rect x="454.54" y="45.15" width="28.97" height="13.70" fill="#fdd4c2"/>
<rect x="483.51" y="45.15" width="14.49" height="13.70" fill="#fca082"/>
<rect x="498.00" y="45.15" width="14.49" height="13.70" fill="#fb6a4a"/>
<rect x="512.49" y="45.15" width="21.73" height="13.70" fill="#fca082"/>
<rect x="534.22" y="45.15" width="7.24" height="13.70" fill="#fdd4c2"/>
<rect x="570.43" y="45.15" width="14.49" height="13.70" fill="#fdd4c2"/>
<rect x="584.92" y="45.15" width="7.24" height="13.70" fill="#fca082"/>
<rect x="592.16" y="45.15" width="28.97" height="13.70" fill="#fb6a4a"/>
<rect x="621.13" y="45.15" width="14.49" height="13.70" fill="#e32f27"/>
<rect x="635.62" y="45.15" width="7.24" height="13.70" fill="#b21218"/>
<rect x="642.86" y="45.15" width="7.24" height="13.70" fill="#e32f27"/>
<rect x="650.10" y="45.15" width="11.90" height="13.70" fill="#fb6a4a"/>
<rect x="599.40" y="58.85" width="36.22" height="13.80" fill="#fdd4c2"/>
<rect x="635.62" y="58.85" width="14.49" height="13.80" fill="#fca082"/>
<rect x="650.10" y="58.85" width="11.90" height="13.80" fill="#e32f27"/>
<rect x="657.35" y="72.65" width="4.65" height="6.70" fill="#fdd4c2"/>
<rect x="447.50" y="19.25" width="13.60" height="5.2" fill="#fff" fill-opacity="0.6"/>
<text x="447.90" y="23.65" font-size="5.0" text-anchor="start" fill="#222" textLength="12.00" lengthAdjust="spacingAndGlyphs">GEFS</text>
<rect x="446.90" y="17.65" width="215.10" height="61.70" fill="none" stroke="#262626" stroke-width="0.9"/>
<line x1="443.30" y1="24.95" x2="446.90" y2="24.95" stroke="#262626" stroke-width="0.8"/>
<text x="439.50" y="26.65" font-size="5.0" text-anchor="end" fill="#262626" textLength="9.20" lengthAdjust="spacingAndGlyphs">64+</text>
<line x1="443.30" y1="38.45" x2="446.90" y2="38.45" stroke="#262626" stroke-width="0.8"/>
<text x="439.50" y="40.15" font-size="5.0" text-anchor="end" fill="#262626" textLength="13.40" lengthAdjust="spacingAndGlyphs">50-64</text>
<line x1="443.30" y1="52.15" x2="446.90" y2="52.15" stroke="#262626" stroke-width="0.8"/>
<text x="439.50" y="53.85" font-size="5.0" text-anchor="end" fill="#262626" textLength="13.40" lengthAdjust="spacingAndGlyphs">34-50</text>
<line x1="443.30" y1="65.85" x2="446.90" y2="65.85" stroke="#262626" stroke-width="0.8"/>
<text x="439.50" y="67.55" font-size="5.0" text-anchor="end" fill="#262626" textLength="8.40" lengthAdjust="spacingAndGlyphs">&lt;34</text>
<line x1="443.30" y1="76.15" x2="446.90" y2="76.15" stroke="#262626" stroke-width="0.8"/>
<text x="439.50" y="77.85" font-size="5.0" text-anchor="end" fill="#262626" textLength="8.00" lengthAdjust="spacingAndGlyphs">lost</text>
<line x1="451.00" y1="79.35" x2="451.00" y2="82.75" stroke="#262626" stroke-width="0.8"/>
<text x="451.00" y="89.75" font-size="5.0" text-anchor="middle" fill="#262626" textLength="2.90" lengthAdjust="spacingAndGlyphs">0</text>
<line x1="465.49" y1="79.35" x2="465.49" y2="82.75" stroke="#262626" stroke-width="0.8"/>
<text x="465.49" y="89.75" font-size="5.0" text-anchor="middle" fill="#262626" textLength="5.70" lengthAdjust="spacingAndGlyphs">12</text>
<line x1="479.97" y1="79.35" x2="479.97" y2="82.75" stroke="#262626" stroke-width="0.8"/>
<text x="479.97" y="89.75" font-size="5.0" text-anchor="middle" fill="#262626" textLength="5.70" lengthAdjust="spacingAndGlyphs">24</text>
<line x1="494.46" y1="79.35" x2="494.46" y2="82.75" stroke="#262626" stroke-width="0.8"/>
<text x="494.46" y="89.75" font-size="5.0" text-anchor="middle" fill="#262626" textLength="5.70" lengthAdjust="spacingAndGlyphs">36</text>
<line x1="508.94" y1="79.35" x2="508.94" y2="82.75" stroke="#262626" stroke-width="0.8"/>
<text x="508.94" y="89.75" font-size="5.0" text-anchor="middle" fill="#262626" textLength="5.70" lengthAdjust="spacingAndGlyphs">48</text>
<line x1="523.43" y1="79.35" x2="523.43" y2="82.75" stroke="#262626" stroke-width="0.8"/>
<text x="523.43" y="89.75" font-size="5.0" text-anchor="middle" fill="#262626" textLength="5.70" lengthAdjust="spacingAndGlyphs">60</text>
<line x1="537.92" y1="79.35" x2="537.92" y2="82.75" stroke="#262626" stroke-width="0.8"/>
<text x="537.92" y="89.75" font-size="5.0" text-anchor="middle" fill="#262626" textLength="5.70" lengthAdjust="spacingAndGlyphs">72</text>
<line x1="552.40" y1="79.35" x2="552.40" y2="82.75" stroke="#262626" stroke-width="0.8"/>
<text x="552.40" y="89.75" font-size="5.0" text-anchor="middle" fill="#262626" textLength="5.70" lengthAdjust="spacingAndGlyphs">84</text>
<line x1="566.89" y1="79.35" x2="566.89" y2="82.75" stroke="#262626" stroke-width="0.8"/>
<text x="566.89" y="89.75" font-size="5.0" text-anchor="middle" fill="#262626" textLength="5.70" lengthAdjust="spacingAndGlyphs">96</text>
<line x1="595.86" y1="79.35" x2="595.86" y2="82.75" stroke="#262626" stroke-width="0.8"/>
<text x="595.86" y="89.75" font-size="5.0" text-anchor="middle" fill="#262626" textLength="8.50" lengthAdjust="spacingAndGlyphs">120</text>
<line x1="624.83" y1="79.35" x2="624.83" y2="82.75" stroke="#262626" stroke-width="0.8"/>
<text x="624.83" y="89.75" font-size="5.0" text-anchor="middle" fill="#262626" textLength="8.50" lengthAdjust="spacingAndGlyphs">144</text>
<line x1="653.80" y1="79.35" x2="653.80" y2="82.75" stroke="#262626" stroke-width="0.8"/>
<text x="653.80" y="89.75" font-size="5.0" text-anchor="middle" fill="#262626" textLength="8.50" lengthAdjust="spacingAndGlyphs">168</text>
<path d="M679.4 27.05 L682.0 20.65 L684.6 27.05 Z" fill="#67000d"/>
<rect x="679.4" y="27.05" width="5.20" height="8.67" fill="#b21218"/>
<rect x="679.4" y="35.67" width="5.20" height="8.67" fill="#e32f27"/>
<rect x="679.4" y="44.29" width="5.20" height="8.67" fill="#fb6a4a"/>
<rect x="679.4" y="52.91" width="5.20" height="8.67" fill="#fca082"/>
<rect x="679.4" y="61.53" width="5.20" height="8.67" fill="#fdd4c2"/>
<path d="M679.4 70.15 L682.0 75.75 L684.6 70.15 Z" fill="#fff5f0"/>
<path d="M679.4 27.05 L682.0 20.65 L684.6 27.05 L684.6 70.15 L682.0 75.75 L679.4 70.15 Z" fill="none" stroke="#262626" stroke-width="0.8" stroke-linejoin="miter"/>
<line x1="684.6" y1="27.05" x2="688.0" y2="27.05" stroke="#262626" stroke-width="0.8"/>
<text x="691.00" y="28.75" font-size="5.0" text-anchor="start" fill="#262626" textLength="5.70" lengthAdjust="spacingAndGlyphs">75</text>
<line x1="684.6" y1="35.67" x2="688.0" y2="35.67" stroke="#262626" stroke-width="0.8"/>
<text x="691.00" y="37.37" font-size="5.0" text-anchor="start" fill="#262626" textLength="5.70" lengthAdjust="spacingAndGlyphs">60</text>
<line x1="684.6" y1="44.29" x2="688.0" y2="44.29" stroke="#262626" stroke-width="0.8"/>
<text x="691.00" y="45.99" font-size="5.0" text-anchor="start" fill="#262626" textLength="5.70" lengthAdjust="spacingAndGlyphs">45</text>
<line x1="684.6" y1="52.91" x2="688.0" y2="52.91" stroke="#262626" stroke-width="0.8"/>
<text x="691.00" y="54.61" font-size="5.0" text-anchor="start" fill="#262626" textLength="5.70" lengthAdjust="spacingAndGlyphs">30</text>
<line x1="684.6" y1="61.53" x2="688.0" y2="61.53" stroke="#262626" stroke-width="0.8"/>
<text x="691.00" y="63.23" font-size="5.0" text-anchor="start" fill="#262626" textLength="5.70" lengthAdjust="spacingAndGlyphs">15</text>
<line x1="684.6" y1="70.15" x2="688.0" y2="70.15" stroke="#262626" stroke-width="0.8"/>
<text x="691.00" y="71.85" font-size="5.0" text-anchor="start" fill="#262626" textLength="2.90" lengthAdjust="spacingAndGlyphs">5</text>
<rect x="446.90" y="105.05" width="215.10" height="61.70" fill="#f7fbff"/>
<rect x="446.90" y="105.05" width="7.64" height="14.00" fill="#3787c0"/>
<rect x="461.79" y="105.05" width="7.24" height="14.00" fill="#d6e6f4"/>
<rect x="469.03" y="105.05" width="7.24" height="14.00" fill="#6baed6"/>
<rect x="476.27" y="105.05" width="7.24" height="14.00" fill="#3787c0"/>
<rect x="483.51" y="105.05" width="7.24" height="14.00" fill="#105ca4"/>
<rect x="490.76" y="105.05" width="14.49" height="14.00" fill="#08306b"/>
<rect x="505.24" y="105.05" width="43.46" height="14.00" fill="#105ca4"/>
<rect x="548.70" y="105.05" width="7.24" height="14.00" fill="#08306b"/>
<rect x="555.95" y="105.05" width="7.24" height="14.00" fill="#105ca4"/>
<rect x="563.19" y="105.05" width="7.24" height="14.00" fill="#08306b"/>
<rect x="570.43" y="105.05" width="7.24" height="14.00" fill="#105ca4"/>
<rect x="577.67" y="105.05" width="7.24" height="14.00" fill="#08306b"/>
<rect x="584.92" y="105.05" width="21.73" height="14.00" fill="#105ca4"/>
<rect x="606.65" y="105.05" width="7.24" height="14.00" fill="#3787c0"/>
<rect x="613.89" y="105.05" width="18.21" height="14.00" fill="#6baed6"/>
<rect x="446.90" y="119.05" width="7.64" height="13.50" fill="#6baed6"/>
<rect x="454.54" y="119.05" width="14.49" height="13.50" fill="#08306b"/>
<rect x="469.03" y="119.05" width="14.49" height="13.50" fill="#3787c0"/>
<rect x="483.51" y="119.05" width="7.24" height="13.50" fill="#6baed6"/>
<rect x="490.76" y="119.05" width="14.49" height="13.50" fill="#abd0e6"/>
<rect x="505.24" y="119.05" width="7.24" height="13.50" fill="#6baed6"/>
<rect x="512.49" y="119.05" width="36.22" height="13.50" fill="#abd0e6"/>
<rect x="548.70" y="119.05" width="36.22" height="13.50" fill="#d6e6f4"/>
<rect x="584.92" y="119.05" width="7.24" height="13.50" fill="#abd0e6"/>
<rect x="592.16" y="119.05" width="7.24" height="13.50" fill="#d6e6f4"/>
<rect x="599.40" y="119.05" width="14.49" height="13.50" fill="#abd0e6"/>
<rect x="613.89" y="119.05" width="7.24" height="13.50" fill="#6baed6"/>
<rect x="621.13" y="119.05" width="10.97" height="13.50" fill="#abd0e6"/>
<rect x="446.90" y="132.55" width="7.64" height="13.70" fill="#d6e6f4"/>
<rect x="454.54" y="132.55" width="7.24" height="13.70" fill="#abd0e6"/>
<rect x="461.79" y="132.55" width="7.24" height="13.70" fill="#d6e6f4"/>
<rect x="498.00" y="132.55" width="108.64" height="13.70" fill="#d6e6f4"/>
<rect x="606.65" y="132.55" width="14.49" height="13.70" fill="#abd0e6"/>
<rect x="621.13" y="132.55" width="10.97" height="13.70" fill="#6baed6"/>
<rect x="584.92" y="146.25" width="21.73" height="13.80" fill="#d6e6f4"/>
<rect x="632.1" y="160.05" width="29.90" height="6.70" fill="#08306b"/>
<rect x="447.50" y="106.65" width="19.20" height="5.2" fill="#fff" fill-opacity="0.6"/>
<text x="447.90" y="111.05" font-size="5.0" text-anchor="start" fill="#222" textLength="17.60" lengthAdjust="spacingAndGlyphs">ECMWF</text>
<rect x="446.90" y="105.05" width="215.10" height="61.70" fill="none" stroke="#262626" stroke-width="0.9"/>
<line x1="443.30" y1="112.35" x2="446.90" y2="112.35" stroke="#262626" stroke-width="0.8"/>
<text x="439.50" y="114.05" font-size="5.0" text-anchor="end" fill="#262626" textLength="9.20" lengthAdjust="spacingAndGlyphs">64+</text>
<line x1="443.30" y1="125.85" x2="446.90" y2="125.85" stroke="#262626" stroke-width="0.8"/>
<text x="439.50" y="127.55" font-size="5.0" text-anchor="end" fill="#262626" textLength="13.40" lengthAdjust="spacingAndGlyphs">50-64</text>
<line x1="443.30" y1="139.55" x2="446.90" y2="139.55" stroke="#262626" stroke-width="0.8"/>
<text x="439.50" y="141.25" font-size="5.0" text-anchor="end" fill="#262626" textLength="13.40" lengthAdjust="spacingAndGlyphs">34-50</text>
<line x1="443.30" y1="153.25" x2="446.90" y2="153.25" stroke="#262626" stroke-width="0.8"/>
<text x="439.50" y="154.95" font-size="5.0" text-anchor="end" fill="#262626" textLength="8.40" lengthAdjust="spacingAndGlyphs">&lt;34</text>
<line x1="443.30" y1="163.55" x2="446.90" y2="163.55" stroke="#262626" stroke-width="0.8"/>
<text x="439.50" y="165.25" font-size="5.0" text-anchor="end" fill="#262626" textLength="8.00" lengthAdjust="spacingAndGlyphs">lost</text>
<line x1="451.00" y1="166.75" x2="451.00" y2="170.15" stroke="#262626" stroke-width="0.8"/>
<text x="451.00" y="177.15" font-size="5.0" text-anchor="middle" fill="#262626" textLength="2.90" lengthAdjust="spacingAndGlyphs">0</text>
<line x1="465.49" y1="166.75" x2="465.49" y2="170.15" stroke="#262626" stroke-width="0.8"/>
<text x="465.49" y="177.15" font-size="5.0" text-anchor="middle" fill="#262626" textLength="5.70" lengthAdjust="spacingAndGlyphs">12</text>
<line x1="479.97" y1="166.75" x2="479.97" y2="170.15" stroke="#262626" stroke-width="0.8"/>
<text x="479.97" y="177.15" font-size="5.0" text-anchor="middle" fill="#262626" textLength="5.70" lengthAdjust="spacingAndGlyphs">24</text>
<line x1="494.46" y1="166.75" x2="494.46" y2="170.15" stroke="#262626" stroke-width="0.8"/>
<text x="494.46" y="177.15" font-size="5.0" text-anchor="middle" fill="#262626" textLength="5.70" lengthAdjust="spacingAndGlyphs">36</text>
<line x1="508.94" y1="166.75" x2="508.94" y2="170.15" stroke="#262626" stroke-width="0.8"/>
<text x="508.94" y="177.15" font-size="5.0" text-anchor="middle" fill="#262626" textLength="5.70" lengthAdjust="spacingAndGlyphs">48</text>
<line x1="523.43" y1="166.75" x2="523.43" y2="170.15" stroke="#262626" stroke-width="0.8"/>
<text x="523.43" y="177.15" font-size="5.0" text-anchor="middle" fill="#262626" textLength="5.70" lengthAdjust="spacingAndGlyphs">60</text>
<line x1="537.92" y1="166.75" x2="537.92" y2="170.15" stroke="#262626" stroke-width="0.8"/>
<text x="537.92" y="177.15" font-size="5.0" text-anchor="middle" fill="#262626" textLength="5.70" lengthAdjust="spacingAndGlyphs">72</text>
<line x1="552.40" y1="166.75" x2="552.40" y2="170.15" stroke="#262626" stroke-width="0.8"/>
<text x="552.40" y="177.15" font-size="5.0" text-anchor="middle" fill="#262626" textLength="5.70" lengthAdjust="spacingAndGlyphs">84</text>
<line x1="566.89" y1="166.75" x2="566.89" y2="170.15" stroke="#262626" stroke-width="0.8"/>
<text x="566.89" y="177.15" font-size="5.0" text-anchor="middle" fill="#262626" textLength="5.70" lengthAdjust="spacingAndGlyphs">96</text>
<line x1="595.86" y1="166.75" x2="595.86" y2="170.15" stroke="#262626" stroke-width="0.8"/>
<text x="595.86" y="177.15" font-size="5.0" text-anchor="middle" fill="#262626" textLength="8.50" lengthAdjust="spacingAndGlyphs">120</text>
<line x1="624.83" y1="166.75" x2="624.83" y2="170.15" stroke="#262626" stroke-width="0.8"/>
<text x="624.83" y="177.15" font-size="5.0" text-anchor="middle" fill="#262626" textLength="8.50" lengthAdjust="spacingAndGlyphs">144</text>
<line x1="653.80" y1="166.75" x2="653.80" y2="170.15" stroke="#262626" stroke-width="0.8"/>
<text x="653.80" y="177.15" font-size="5.0" text-anchor="middle" fill="#262626" textLength="8.50" lengthAdjust="spacingAndGlyphs">168</text>
<path d="M679.4 114.45 L682.0 108.05 L684.6 114.45 Z" fill="#08306b"/>
<rect x="679.4" y="114.45" width="5.20" height="8.67" fill="#105ca4"/>
<rect x="679.4" y="123.07" width="5.20" height="8.67" fill="#3787c0"/>
<rect x="679.4" y="131.69" width="5.20" height="8.67" fill="#6baed6"/>
<rect x="679.4" y="140.31" width="5.20" height="8.67" fill="#abd0e6"/>
<rect x="679.4" y="148.93" width="5.20" height="8.67" fill="#d6e6f4"/>
<path d="M679.4 157.55 L682.0 163.15 L684.6 157.55 Z" fill="#f7fbff"/>
<path d="M679.4 114.45 L682.0 108.05 L684.6 114.45 L684.6 157.55 L682.0 163.15 L679.4 157.55 Z" fill="none" stroke="#262626" stroke-width="0.8" stroke-linejoin="miter"/>
<line x1="684.6" y1="114.45" x2="688.0" y2="114.45" stroke="#262626" stroke-width="0.8"/>
<text x="691.00" y="116.15" font-size="5.0" text-anchor="start" fill="#262626" textLength="5.70" lengthAdjust="spacingAndGlyphs">75</text>
<line x1="684.6" y1="123.07" x2="688.0" y2="123.07" stroke="#262626" stroke-width="0.8"/>
<text x="691.00" y="124.77" font-size="5.0" text-anchor="start" fill="#262626" textLength="5.70" lengthAdjust="spacingAndGlyphs">60</text>
<line x1="684.6" y1="131.69" x2="688.0" y2="131.69" stroke="#262626" stroke-width="0.8"/>
<text x="691.00" y="133.39" font-size="5.0" text-anchor="start" fill="#262626" textLength="5.70" lengthAdjust="spacingAndGlyphs">45</text>
<line x1="684.6" y1="140.31" x2="688.0" y2="140.31" stroke="#262626" stroke-width="0.8"/>
<text x="691.00" y="142.01" font-size="5.0" text-anchor="start" fill="#262626" textLength="5.70" lengthAdjust="spacingAndGlyphs">30</text>
<line x1="684.6" y1="148.93" x2="688.0" y2="148.93" stroke="#262626" stroke-width="0.8"/>
<text x="691.00" y="150.63" font-size="5.0" text-anchor="start" fill="#262626" textLength="5.70" lengthAdjust="spacingAndGlyphs">15</text>
<line x1="684.6" y1="157.55" x2="688.0" y2="157.55" stroke="#262626" stroke-width="0.8"/>
<text x="691.00" y="159.25" font-size="5.0" text-anchor="start" fill="#262626" textLength="2.90" lengthAdjust="spacingAndGlyphs">5</text>
<rect x="446.90" y="192.45" width="215.10" height="61.70" fill="#f7fcf5"/>
<rect x="446.90" y="247.45" width="215.10" height="6.70" fill="#00441b"/>
<rect x="447.50" y="194.05" width="31.00" height="5.2" fill="#fff" fill-opacity="0.6"/>
<text x="447.90" y="198.45" font-size="5.0" text-anchor="start" fill="#222" textLength="29.40" lengthAdjust="spacingAndGlyphs">MOGREPS-G</text>
<rect x="446.90" y="192.45" width="215.10" height="61.70" fill="none" stroke="#262626" stroke-width="0.9"/>
<line x1="443.30" y1="199.75" x2="446.90" y2="199.75" stroke="#262626" stroke-width="0.8"/>
<text x="439.50" y="201.45" font-size="5.0" text-anchor="end" fill="#262626" textLength="9.20" lengthAdjust="spacingAndGlyphs">64+</text>
<line x1="443.30" y1="213.25" x2="446.90" y2="213.25" stroke="#262626" stroke-width="0.8"/>
<text x="439.50" y="214.95" font-size="5.0" text-anchor="end" fill="#262626" textLength="13.40" lengthAdjust="spacingAndGlyphs">50-64</text>
<line x1="443.30" y1="226.95" x2="446.90" y2="226.95" stroke="#262626" stroke-width="0.8"/>
<text x="439.50" y="228.65" font-size="5.0" text-anchor="end" fill="#262626" textLength="13.40" lengthAdjust="spacingAndGlyphs">34-50</text>
<line x1="443.30" y1="240.65" x2="446.90" y2="240.65" stroke="#262626" stroke-width="0.8"/>
<text x="439.50" y="242.35" font-size="5.0" text-anchor="end" fill="#262626" textLength="8.40" lengthAdjust="spacingAndGlyphs">&lt;34</text>
<line x1="443.30" y1="250.95" x2="446.90" y2="250.95" stroke="#262626" stroke-width="0.8"/>
<text x="439.50" y="252.65" font-size="5.0" text-anchor="end" fill="#262626" textLength="8.00" lengthAdjust="spacingAndGlyphs">lost</text>
<line x1="451.00" y1="254.15" x2="451.00" y2="257.55" stroke="#262626" stroke-width="0.8"/>
<text x="451.00" y="264.55" font-size="5.0" text-anchor="middle" fill="#262626" textLength="2.90" lengthAdjust="spacingAndGlyphs">0</text>
<line x1="465.49" y1="254.15" x2="465.49" y2="257.55" stroke="#262626" stroke-width="0.8"/>
<text x="465.49" y="264.55" font-size="5.0" text-anchor="middle" fill="#262626" textLength="5.70" lengthAdjust="spacingAndGlyphs">12</text>
<line x1="479.97" y1="254.15" x2="479.97" y2="257.55" stroke="#262626" stroke-width="0.8"/>
<text x="479.97" y="264.55" font-size="5.0" text-anchor="middle" fill="#262626" textLength="5.70" lengthAdjust="spacingAndGlyphs">24</text>
<line x1="494.46" y1="254.15" x2="494.46" y2="257.55" stroke="#262626" stroke-width="0.8"/>
<text x="494.46" y="264.55" font-size="5.0" text-anchor="middle" fill="#262626" textLength="5.70" lengthAdjust="spacingAndGlyphs">36</text>
<line x1="508.94" y1="254.15" x2="508.94" y2="257.55" stroke="#262626" stroke-width="0.8"/>
<text x="508.94" y="264.55" font-size="5.0" text-anchor="middle" fill="#262626" textLength="5.70" lengthAdjust="spacingAndGlyphs">48</text>
<line x1="523.43" y1="254.15" x2="523.43" y2="257.55" stroke="#262626" stroke-width="0.8"/>
<text x="523.43" y="264.55" font-size="5.0" text-anchor="middle" fill="#262626" textLength="5.70" lengthAdjust="spacingAndGlyphs">60</text>
<line x1="537.92" y1="254.15" x2="537.92" y2="257.55" stroke="#262626" stroke-width="0.8"/>
<text x="537.92" y="264.55" font-size="5.0" text-anchor="middle" fill="#262626" textLength="5.70" lengthAdjust="spacingAndGlyphs">72</text>
<line x1="552.40" y1="254.15" x2="552.40" y2="257.55" stroke="#262626" stroke-width="0.8"/>
<text x="552.40" y="264.55" font-size="5.0" text-anchor="middle" fill="#262626" textLength="5.70" lengthAdjust="spacingAndGlyphs">84</text>
<line x1="566.89" y1="254.15" x2="566.89" y2="257.55" stroke="#262626" stroke-width="0.8"/>
<text x="566.89" y="264.55" font-size="5.0" text-anchor="middle" fill="#262626" textLength="5.70" lengthAdjust="spacingAndGlyphs">96</text>
<line x1="595.86" y1="254.15" x2="595.86" y2="257.55" stroke="#262626" stroke-width="0.8"/>
<text x="595.86" y="264.55" font-size="5.0" text-anchor="middle" fill="#262626" textLength="8.50" lengthAdjust="spacingAndGlyphs">120</text>
<line x1="624.83" y1="254.15" x2="624.83" y2="257.55" stroke="#262626" stroke-width="0.8"/>
<text x="624.83" y="264.55" font-size="5.0" text-anchor="middle" fill="#262626" textLength="8.50" lengthAdjust="spacingAndGlyphs">144</text>
<line x1="653.80" y1="254.15" x2="653.80" y2="257.55" stroke="#262626" stroke-width="0.8"/>
<text x="653.80" y="264.55" font-size="5.0" text-anchor="middle" fill="#262626" textLength="8.50" lengthAdjust="spacingAndGlyphs">168</text>
<path d="M679.4 201.85 L682.0 195.45 L684.6 201.85 Z" fill="#00441b"/>
<rect x="679.4" y="201.85" width="5.20" height="8.67" fill="#0c7734"/>
<rect x="679.4" y="210.47" width="5.20" height="8.67" fill="#37a055"/>
<rect x="679.4" y="219.09" width="5.20" height="8.67" fill="#74c476"/>
<rect x="679.4" y="227.71" width="5.20" height="8.67" fill="#aedea7"/>
<rect x="679.4" y="236.33" width="5.20" height="8.67" fill="#dbf1d5"/>
<path d="M679.4 244.95 L682.0 250.55 L684.6 244.95 Z" fill="#f7fcf5"/>
<path d="M679.4 201.85 L682.0 195.45 L684.6 201.85 L684.6 244.95 L682.0 250.55 L679.4 244.95 Z" fill="none" stroke="#262626" stroke-width="0.8" stroke-linejoin="miter"/>
<line x1="684.6" y1="201.85" x2="688.0" y2="201.85" stroke="#262626" stroke-width="0.8"/>
<text x="691.00" y="203.55" font-size="5.0" text-anchor="start" fill="#262626" textLength="5.70" lengthAdjust="spacingAndGlyphs">75</text>
<line x1="684.6" y1="210.47" x2="688.0" y2="210.47" stroke="#262626" stroke-width="0.8"/>
<text x="691.00" y="212.17" font-size="5.0" text-anchor="start" fill="#262626" textLength="5.70" lengthAdjust="spacingAndGlyphs">60</text>
<line x1="684.6" y1="219.09" x2="688.0" y2="219.09" stroke="#262626" stroke-width="0.8"/>
<text x="691.00" y="220.79" font-size="5.0" text-anchor="start" fill="#262626" textLength="5.70" lengthAdjust="spacingAndGlyphs">45</text>
<line x1="684.6" y1="227.71" x2="688.0" y2="227.71" stroke="#262626" stroke-width="0.8"/>
<text x="691.00" y="229.41" font-size="5.0" text-anchor="start" fill="#262626" textLength="5.70" lengthAdjust="spacingAndGlyphs">30</text>
<line x1="684.6" y1="236.33" x2="688.0" y2="236.33" stroke="#262626" stroke-width="0.8"/>
<text x="691.00" y="238.03" font-size="5.0" text-anchor="start" fill="#262626" textLength="5.70" lengthAdjust="spacingAndGlyphs">15</text>
<line x1="684.6" y1="244.95" x2="688.0" y2="244.95" stroke="#262626" stroke-width="0.8"/>
<text x="691.00" y="246.65" font-size="5.0" text-anchor="start" fill="#262626" textLength="2.90" lengthAdjust="spacingAndGlyphs">5</text>
<clipPath id="cNWQ"><rect x="446.8" y="307.2" width="89.00" height="71.10"/></clipPath>
<g clip-path="url(#cNWQ)">
<path d="M447.50 363.25 L452.75 366.25 L462.50 366.55 L471.50 367.90 L483.50 367.90 L495.50 368.50 L507.50 367.75 L513.50 365.80 L517.25 364.90 L524.00 365.50 L532.25 365.80 L532.25 367.75 L524.00 368.05 L517.25 368.20 L513.50 369.40 L507.50 371.20 L495.50 371.50 L483.50 370.45 L471.50 370.45 L462.50 369.25 L452.75 369.25 L447.50 367.00 Z" fill="#0f44e2" fill-opacity="0.16"/>
<path d="M447.50 363.25 L452.75 366.25 L462.50 366.55 L471.50 367.90 L483.50 367.90 L495.50 368.50 L507.50 367.75 L513.50 365.80 L517.25 364.90 L524.00 365.50 L532.25 365.80" fill="none" stroke="#0f44e2" stroke-opacity="0.22" stroke-width="1.3"/>
<path d="M447.50 367.00 L452.75 369.25 L462.50 369.25 L471.50 370.45 L483.50 370.45 L495.50 371.50 L507.50 371.20 L513.50 369.40 L517.25 368.20 L524.00 368.05 L532.25 367.75" fill="none" stroke="#0f44e2" stroke-opacity="0.22" stroke-width="1.3"/>
<path d="M447.50 361.00 L455.00 363.25 L470.00 366.25 L476.00 363.70 L485.00 364.75 L491.00 363.25 L497.00 364.30 L503.00 362.50 L509.00 360.25 L515.00 358.00 L518.00 356.20 L521.00 356.50 L526.25 354.25 L530.00 355.75 L533.00 361.00 L535.70 368.50" fill="none" stroke="#cb0520" stroke-opacity="0.30" stroke-width="1.6" stroke-linejoin="round"/>
<path d="M447.50 363.70 L456.50 365.50 L470.00 368.20 L475.25 366.40 L483.50 367.90 L496.25 369.10 L500.00 367.45 L507.50 365.50 L514.25 365.20 L517.25 366.25 L518.75 370.00 L520.25 375.70 L524.00 376.00 L526.25 377.80 L527.30 378.25 L535.70 378.25" fill="none" stroke="#cb0520" stroke-opacity="0.30" stroke-width="1.6" stroke-linejoin="round"/>
<line x1="446.8" y1="378.10" x2="535.8" y2="378.10" stroke="#1f8a1f" stroke-width="1.2"/>
<path d="M447.50 362.50 L451.25 362.50 L456.50 364.45 L462.50 364.00 L470.00 367.30 L475.25 365.20 L483.50 367.00 L487.25 366.70 L496.25 368.20 L500.00 366.25 L507.50 364.00 L514.25 363.55 L517.25 362.05 L521.00 363.25 L523.25 361.45 L527.00 364.00 L531.50 369.25 L535.70 371.50" fill="none" stroke="#cb0520" stroke-width="1.85" stroke-linejoin="round" stroke-linecap="round"/>
<path d="M447.50 364.75 L452.75 367.75 L458.00 368.50 L462.50 367.75 L471.50 369.25 L475.25 367.75 L483.50 369.25 L487.25 367.75 L495.50 370.00 L501.50 369.70 L507.50 369.55 L513.50 367.75 L517.25 366.55 L524.00 366.70 L528.50 367.45 L532.25 366.70" fill="none" stroke="#0d45de" stroke-width="1.85" stroke-linejoin="round" stroke-linecap="round"/>
</g>
<rect x="446.8" y="307.2" width="89.00" height="71.10" fill="none" stroke="#262626" stroke-width="0.9"/>
<text x="449.00" y="313.50" font-size="5.0" text-anchor="start" fill="#222" textLength="11.40" lengthAdjust="spacingAndGlyphs">NWQ</text>
<line x1="448.30" y1="378.30" x2="448.30" y2="381.50" stroke="#262626" stroke-width="0.8"/>
<text x="448.30" y="388.90" font-size="5.0" text-anchor="middle" fill="#262626" textLength="2.90" lengthAdjust="spacingAndGlyphs">0</text>
<line x1="460.33" y1="378.30" x2="460.33" y2="381.50" stroke="#262626" stroke-width="0.8"/>
<text x="460.33" y="388.90" font-size="5.0" text-anchor="middle" fill="#262626" textLength="5.70" lengthAdjust="spacingAndGlyphs">24</text>
<line x1="472.36" y1="378.30" x2="472.36" y2="381.50" stroke="#262626" stroke-width="0.8"/>
<text x="472.36" y="388.90" font-size="5.0" text-anchor="middle" fill="#262626" textLength="5.70" lengthAdjust="spacingAndGlyphs">48</text>
<line x1="484.39" y1="378.30" x2="484.39" y2="381.50" stroke="#262626" stroke-width="0.8"/>
<text x="484.39" y="388.90" font-size="5.0" text-anchor="middle" fill="#262626" textLength="5.70" lengthAdjust="spacingAndGlyphs">72</text>
<line x1="496.42" y1="378.30" x2="496.42" y2="381.50" stroke="#262626" stroke-width="0.8"/>
<text x="496.42" y="388.90" font-size="5.0" text-anchor="middle" fill="#262626" textLength="5.70" lengthAdjust="spacingAndGlyphs">96</text>
<line x1="508.45" y1="378.30" x2="508.45" y2="381.50" stroke="#262626" stroke-width="0.8"/>
<text x="508.45" y="388.90" font-size="5.0" text-anchor="middle" fill="#262626" textLength="8.50" lengthAdjust="spacingAndGlyphs">120</text>
<line x1="520.48" y1="378.30" x2="520.48" y2="381.50" stroke="#262626" stroke-width="0.8"/>
<text x="520.48" y="388.90" font-size="5.0" text-anchor="middle" fill="#262626" textLength="8.50" lengthAdjust="spacingAndGlyphs">144</text>
<line x1="532.51" y1="378.30" x2="532.51" y2="381.50" stroke="#262626" stroke-width="0.8"/>
<text x="532.51" y="388.90" font-size="5.0" text-anchor="middle" fill="#262626" textLength="8.50" lengthAdjust="spacingAndGlyphs">168</text>
<line x1="443.40" y1="378.30" x2="446.80" y2="378.30" stroke="#262626" stroke-width="0.8"/>
<text x="439.80" y="380.00" font-size="5.0" text-anchor="end" fill="#262626" textLength="2.90" lengthAdjust="spacingAndGlyphs">0</text>
<line x1="443.40" y1="366.45" x2="446.80" y2="366.45" stroke="#262626" stroke-width="0.8"/>
<text x="439.80" y="368.15" font-size="5.0" text-anchor="end" fill="#262626" textLength="5.70" lengthAdjust="spacingAndGlyphs">50</text>
<line x1="443.40" y1="354.60" x2="446.80" y2="354.60" stroke="#262626" stroke-width="0.8"/>
<text x="439.80" y="356.30" font-size="5.0" text-anchor="end" fill="#262626" textLength="8.50" lengthAdjust="spacingAndGlyphs">100</text>
<line x1="443.40" y1="342.75" x2="446.80" y2="342.75" stroke="#262626" stroke-width="0.8"/>
<text x="439.80" y="344.45" font-size="5.0" text-anchor="end" fill="#262626" textLength="8.50" lengthAdjust="spacingAndGlyphs">150</text>
<line x1="443.40" y1="330.90" x2="446.80" y2="330.90" stroke="#262626" stroke-width="0.8"/>
<text x="439.80" y="332.60" font-size="5.0" text-anchor="end" fill="#262626" textLength="8.50" lengthAdjust="spacingAndGlyphs">200</text>
<line x1="443.40" y1="319.05" x2="446.80" y2="319.05" stroke="#262626" stroke-width="0.8"/>
<text x="439.80" y="320.75" font-size="5.0" text-anchor="end" fill="#262626" textLength="8.50" lengthAdjust="spacingAndGlyphs">250</text>
<line x1="443.40" y1="307.20" x2="446.80" y2="307.20" stroke="#262626" stroke-width="0.8"/>
<text x="439.80" y="308.90" font-size="5.0" text-anchor="end" fill="#262626" textLength="8.50" lengthAdjust="spacingAndGlyphs">300</text>
<clipPath id="cNEQ"><rect x="572.3" y="307.2" width="89.00" height="71.10"/></clipPath>
<g clip-path="url(#cNEQ)">
<path d="M573.25 362.50 L577.00 364.00 L586.30 365.05 L598.30 365.20 L607.00 366.70 L616.00 365.20 L622.45 362.50 L629.50 361.75 L638.50 361.75 L644.50 364.75 L649.75 364.45 L658.75 365.20 L658.75 367.30 L649.75 367.00 L644.50 367.90 L638.50 364.90 L629.50 366.10 L622.45 367.00 L616.00 368.20 L607.00 369.40 L598.30 367.45 L586.30 367.60 L577.00 366.70 L573.25 364.75 Z" fill="#0f44e2" fill-opacity="0.16"/>
<path d="M573.25 362.50 L577.00 364.00 L586.30 365.05 L598.30 365.20 L607.00 366.70 L616.00 365.20 L622.45 362.50 L629.50 361.75 L638.50 361.75 L644.50 364.75 L649.75 364.45 L658.75 365.20" fill="none" stroke="#0f44e2" stroke-opacity="0.22" stroke-width="1.3"/>
<path d="M573.25 364.75 L577.00 366.70 L586.30 367.60 L598.30 367.45 L607.00 369.40 L616.00 368.20 L622.45 367.00 L629.50 366.10 L638.50 364.90 L644.50 367.90 L649.75 367.00 L658.75 367.30" fill="none" stroke="#0f44e2" stroke-opacity="0.22" stroke-width="1.3"/>
<path d="M573.25 361.75 L580.00 361.00 L586.30 361.75 L598.30 362.20 L606.25 363.25 L610.00 360.25 L613.00 358.75 L617.50 358.75 L622.45 355.75 L628.00 355.75 L634.45 355.00 L638.50 354.55 L641.50 353.50 L644.50 354.25 L646.75 355.30 L649.75 353.80 L653.50 354.55 L655.75 357.25 L657.25 365.50 L658.75 376.75 L659.80 370.00 L661.00 359.50" fill="none" stroke="#cb0520" stroke-opacity="0.30" stroke-width="1.6" stroke-linejoin="round"/>
<path d="M573.25 363.70 L586.30 363.55 L598.30 364.75 L606.25 365.50 L610.00 364.00 L616.00 362.50 L622.45 360.25 L629.50 360.55 L637.00 360.70 L641.50 360.25 L643.00 364.00 L644.50 371.50 L646.00 377.50 L646.75 378.25 L661.00 378.25" fill="none" stroke="#cb0520" stroke-opacity="0.30" stroke-width="1.6" stroke-linejoin="round"/>
<line x1="572.3" y1="378.10" x2="661.3" y2="378.10" stroke="#1f8a1f" stroke-width="1.2"/>
<path d="M573.25 362.80 L580.00 362.50 L583.00 363.25 L586.30 362.50 L592.00 363.25 L598.30 363.70 L606.25 364.45 L610.00 362.50 L616.00 361.00 L619.00 360.70 L622.45 358.00 L625.00 358.00 L629.50 359.05 L637.00 359.05 L640.75 357.70 L643.30 357.25 L646.00 362.50 L649.00 360.25 L652.45 358.30 L655.00 361.00 L657.25 367.00 L658.75 368.80 L661.00 367.30" fill="none" stroke="#cb0520" stroke-width="1.85" stroke-linejoin="round" stroke-linecap="round"/>
<path d="M573.25 363.70 L577.00 365.50 L581.50 366.70 L586.30 366.25 L592.00 366.70 L598.30 366.25 L602.50 367.00 L607.00 368.20 L611.50 367.45 L616.00 366.70 L619.00 367.45 L622.45 365.50 L625.75 364.45 L629.50 364.75 L634.45 363.55 L638.50 363.55 L641.50 364.75 L644.50 366.55 L646.75 367.00 L649.75 365.80 L652.75 365.05 L656.50 365.80 L658.75 366.25" fill="none" stroke="#0d45de" stroke-width="1.85" stroke-linejoin="round" stroke-linecap="round"/>
</g>
<rect x="572.3" y="307.2" width="89.00" height="71.10" fill="none" stroke="#262626" stroke-width="0.9"/>
<text x="574.50" y="313.50" font-size="5.0" text-anchor="start" fill="#222" textLength="11.40" lengthAdjust="spacingAndGlyphs">NEQ</text>
<line x1="574.30" y1="378.30" x2="574.30" y2="381.50" stroke="#262626" stroke-width="0.8"/>
<text x="574.30" y="388.90" font-size="5.0" text-anchor="middle" fill="#262626" textLength="2.90" lengthAdjust="spacingAndGlyphs">0</text>
<line x1="586.33" y1="378.30" x2="586.33" y2="381.50" stroke="#262626" stroke-width="0.8"/>
<text x="586.33" y="388.90" font-size="5.0" text-anchor="middle" fill="#262626" textLength="5.70" lengthAdjust="spacingAndGlyphs">24</text>
<line x1="598.36" y1="378.30" x2="598.36" y2="381.50" stroke="#262626" stroke-width="0.8"/>
<text x="598.36" y="388.90" font-size="5.0" text-anchor="middle" fill="#262626" textLength="5.70" lengthAdjust="spacingAndGlyphs">48</text>
<line x1="610.39" y1="378.30" x2="610.39" y2="381.50" stroke="#262626" stroke-width="0.8"/>
<text x="610.39" y="388.90" font-size="5.0" text-anchor="middle" fill="#262626" textLength="5.70" lengthAdjust="spacingAndGlyphs">72</text>
<line x1="622.42" y1="378.30" x2="622.42" y2="381.50" stroke="#262626" stroke-width="0.8"/>
<text x="622.42" y="388.90" font-size="5.0" text-anchor="middle" fill="#262626" textLength="5.70" lengthAdjust="spacingAndGlyphs">96</text>
<line x1="634.45" y1="378.30" x2="634.45" y2="381.50" stroke="#262626" stroke-width="0.8"/>
<text x="634.45" y="388.90" font-size="5.0" text-anchor="middle" fill="#262626" textLength="8.50" lengthAdjust="spacingAndGlyphs">120</text>
<line x1="646.48" y1="378.30" x2="646.48" y2="381.50" stroke="#262626" stroke-width="0.8"/>
<text x="646.48" y="388.90" font-size="5.0" text-anchor="middle" fill="#262626" textLength="8.50" lengthAdjust="spacingAndGlyphs">144</text>
<line x1="658.51" y1="378.30" x2="658.51" y2="381.50" stroke="#262626" stroke-width="0.8"/>
<text x="658.51" y="388.90" font-size="5.0" text-anchor="middle" fill="#262626" textLength="8.50" lengthAdjust="spacingAndGlyphs">168</text>
<line x1="661.30" y1="378.30" x2="664.70" y2="378.30" stroke="#262626" stroke-width="0.8"/>
<text x="668.30" y="380.00" font-size="5.0" text-anchor="start" fill="#262626" textLength="2.90" lengthAdjust="spacingAndGlyphs">0</text>
<line x1="661.30" y1="366.45" x2="664.70" y2="366.45" stroke="#262626" stroke-width="0.8"/>
<text x="668.30" y="368.15" font-size="5.0" text-anchor="start" fill="#262626" textLength="5.70" lengthAdjust="spacingAndGlyphs">50</text>
<line x1="661.30" y1="354.60" x2="664.70" y2="354.60" stroke="#262626" stroke-width="0.8"/>
<text x="668.30" y="356.30" font-size="5.0" text-anchor="start" fill="#262626" textLength="8.50" lengthAdjust="spacingAndGlyphs">100</text>
<line x1="661.30" y1="342.75" x2="664.70" y2="342.75" stroke="#262626" stroke-width="0.8"/>
<text x="668.30" y="344.45" font-size="5.0" text-anchor="start" fill="#262626" textLength="8.50" lengthAdjust="spacingAndGlyphs">150</text>
<line x1="661.30" y1="330.90" x2="664.70" y2="330.90" stroke="#262626" stroke-width="0.8"/>
<text x="668.30" y="332.60" font-size="5.0" text-anchor="start" fill="#262626" textLength="8.50" lengthAdjust="spacingAndGlyphs">200</text>
<line x1="661.30" y1="319.05" x2="664.70" y2="319.05" stroke="#262626" stroke-width="0.8"/>
<text x="668.30" y="320.75" font-size="5.0" text-anchor="start" fill="#262626" textLength="8.50" lengthAdjust="spacingAndGlyphs">250</text>
<line x1="661.30" y1="307.20" x2="664.70" y2="307.20" stroke="#262626" stroke-width="0.8"/>
<text x="668.30" y="308.90" font-size="5.0" text-anchor="start" fill="#262626" textLength="8.50" lengthAdjust="spacingAndGlyphs">300</text>
<clipPath id="cSWQ"><rect x="446.8" y="404.0" width="89.00" height="70.80"/></clipPath>
<g clip-path="url(#cSWQ)">
<path d="M448.25 453.30 L456.50 453.30 L460.55 455.70 L472.55 457.80 L484.55 455.70 L492.50 454.50 L496.55 457.80 L506.00 461.70 L513.50 462.00 L518.00 456.00 L526.25 455.70 L532.55 453.00 L532.55 456.00 L524.00 459.75 L518.00 464.25 L513.50 465.75 L506.00 465.00 L496.55 462.75 L492.50 459.30 L484.55 459.75 L472.55 461.25 L460.55 459.30 L448.25 457.50 Z" fill="#0f44e2" fill-opacity="0.16"/>
<path d="M448.25 453.30 L456.50 453.30 L460.55 455.70 L472.55 457.80 L484.55 455.70 L492.50 454.50 L496.55 457.80 L506.00 461.70 L513.50 462.00 L518.00 456.00 L526.25 455.70 L532.55 453.00" fill="none" stroke="#0f44e2" stroke-opacity="0.22" stroke-width="1.3"/>
<path d="M448.25 457.50 L460.55 459.30 L472.55 461.25 L484.55 459.75 L492.50 459.30 L496.55 462.75 L506.00 465.00 L513.50 465.75 L518.00 464.25 L524.00 459.75 L532.55 456.00" fill="none" stroke="#0f44e2" stroke-opacity="0.22" stroke-width="1.3"/>
<path d="M448.25 453.00 L452.00 450.75 L456.50 451.50 L460.55 449.70 L465.50 451.50 L472.55 453.00 L478.25 450.00 L481.25 448.80 L484.55 447.30 L488.00 450.00 L491.75 450.00 L496.55 452.25 L501.50 455.25 L508.55 454.50 L512.00 453.30 L515.00 447.00 L518.00 439.50 L520.55 435.30 L523.25 440.25 L526.25 436.20 L529.55 447.75 L532.55 446.70 L535.70 446.25" fill="none" stroke="#cb0520" stroke-opacity="0.30" stroke-width="1.6" stroke-linejoin="round"/>
<path d="M448.25 456.00 L460.55 454.20 L472.55 457.20 L478.25 454.50 L484.55 452.25 L491.75 454.20 L496.55 456.75 L501.50 458.70 L508.55 460.20 L515.00 458.70 L520.55 454.20 L524.00 455.25 L526.25 463.50 L529.55 474.00 L530.00 474.75 L535.70 474.75" fill="none" stroke="#cb0520" stroke-opacity="0.30" stroke-width="1.6" stroke-linejoin="round"/>
<line x1="446.8" y1="474.60" x2="535.8" y2="474.60" stroke="#1f8a1f" stroke-width="1.2"/>
<path d="M448.25 454.80 L451.25 452.25 L455.00 453.00 L460.55 451.95 L465.50 453.75 L472.55 455.25 L478.25 452.25 L481.25 452.70 L484.55 449.25 L487.25 452.70 L491.75 452.25 L496.55 454.50 L501.50 456.75 L508.55 458.25 L513.50 456.00 L517.25 452.25 L520.55 446.25 L524.00 447.30 L527.00 450.00 L530.00 456.75 L532.55 458.25 L535.70 456.75" fill="none" stroke="#cb0520" stroke-width="1.85" stroke-linejoin="round" stroke-linecap="round"/>
<path d="M448.25 455.25 L451.25 454.20 L456.50 454.80 L460.55 457.50 L463.25 455.70 L467.00 456.75 L472.55 459.75 L478.25 457.50 L482.00 458.25 L484.55 457.20 L492.50 456.00 L496.55 459.75 L501.50 462.45 L506.00 463.50 L511.25 463.80 L515.00 461.25 L518.00 457.50 L520.55 456.75 L526.25 457.20 L530.00 455.25 L532.55 454.05" fill="none" stroke="#0d45de" stroke-width="1.85" stroke-linejoin="round" stroke-linecap="round"/>
</g>
<rect x="446.8" y="404.0" width="89.00" height="70.80" fill="none" stroke="#262626" stroke-width="0.9"/>
<text x="449.00" y="410.30" font-size="5.0" text-anchor="start" fill="#222" textLength="11.40" lengthAdjust="spacingAndGlyphs">SWQ</text>
<line x1="448.30" y1="474.80" x2="448.30" y2="478.00" stroke="#262626" stroke-width="0.8"/>
<text x="448.30" y="485.40" font-size="5.0" text-anchor="middle" fill="#262626" textLength="2.90" lengthAdjust="spacingAndGlyphs">0</text>
<line x1="460.33" y1="474.80" x2="460.33" y2="478.00" stroke="#262626" stroke-width="0.8"/>
<text x="460.33" y="485.40" font-size="5.0" text-anchor="middle" fill="#262626" textLength="5.70" lengthAdjust="spacingAndGlyphs">24</text>
<line x1="472.36" y1="474.80" x2="472.36" y2="478.00" stroke="#262626" stroke-width="0.8"/>
<text x="472.36" y="485.40" font-size="5.0" text-anchor="middle" fill="#262626" textLength="5.70" lengthAdjust="spacingAndGlyphs">48</text>
<line x1="484.39" y1="474.80" x2="484.39" y2="478.00" stroke="#262626" stroke-width="0.8"/>
<text x="484.39" y="485.40" font-size="5.0" text-anchor="middle" fill="#262626" textLength="5.70" lengthAdjust="spacingAndGlyphs">72</text>
<line x1="496.42" y1="474.80" x2="496.42" y2="478.00" stroke="#262626" stroke-width="0.8"/>
<text x="496.42" y="485.40" font-size="5.0" text-anchor="middle" fill="#262626" textLength="5.70" lengthAdjust="spacingAndGlyphs">96</text>
<line x1="508.45" y1="474.80" x2="508.45" y2="478.00" stroke="#262626" stroke-width="0.8"/>
<text x="508.45" y="485.40" font-size="5.0" text-anchor="middle" fill="#262626" textLength="8.50" lengthAdjust="spacingAndGlyphs">120</text>
<line x1="520.48" y1="474.80" x2="520.48" y2="478.00" stroke="#262626" stroke-width="0.8"/>
<text x="520.48" y="485.40" font-size="5.0" text-anchor="middle" fill="#262626" textLength="8.50" lengthAdjust="spacingAndGlyphs">144</text>
<line x1="532.51" y1="474.80" x2="532.51" y2="478.00" stroke="#262626" stroke-width="0.8"/>
<text x="532.51" y="485.40" font-size="5.0" text-anchor="middle" fill="#262626" textLength="8.50" lengthAdjust="spacingAndGlyphs">168</text>
<line x1="443.40" y1="474.80" x2="446.80" y2="474.80" stroke="#262626" stroke-width="0.8"/>
<text x="439.80" y="476.50" font-size="5.0" text-anchor="end" fill="#262626" textLength="2.90" lengthAdjust="spacingAndGlyphs">0</text>
<line x1="443.40" y1="463.00" x2="446.80" y2="463.00" stroke="#262626" stroke-width="0.8"/>
<text x="439.80" y="464.70" font-size="5.0" text-anchor="end" fill="#262626" textLength="5.70" lengthAdjust="spacingAndGlyphs">50</text>
<line x1="443.40" y1="451.20" x2="446.80" y2="451.20" stroke="#262626" stroke-width="0.8"/>
<text x="439.80" y="452.90" font-size="5.0" text-anchor="end" fill="#262626" textLength="8.50" lengthAdjust="spacingAndGlyphs">100</text>
<line x1="443.40" y1="439.40" x2="446.80" y2="439.40" stroke="#262626" stroke-width="0.8"/>
<text x="439.80" y="441.10" font-size="5.0" text-anchor="end" fill="#262626" textLength="8.50" lengthAdjust="spacingAndGlyphs">150</text>
<line x1="443.40" y1="427.60" x2="446.80" y2="427.60" stroke="#262626" stroke-width="0.8"/>
<text x="439.80" y="429.30" font-size="5.0" text-anchor="end" fill="#262626" textLength="8.50" lengthAdjust="spacingAndGlyphs">200</text>
<line x1="443.40" y1="415.80" x2="446.80" y2="415.80" stroke="#262626" stroke-width="0.8"/>
<text x="439.80" y="417.50" font-size="5.0" text-anchor="end" fill="#262626" textLength="8.50" lengthAdjust="spacingAndGlyphs">250</text>
<line x1="443.40" y1="404.00" x2="446.80" y2="404.00" stroke="#262626" stroke-width="0.8"/>
<text x="439.80" y="405.70" font-size="5.0" text-anchor="end" fill="#262626" textLength="8.50" lengthAdjust="spacingAndGlyphs">300</text>
<clipPath id="cSEQ"><rect x="572.3" y="404.0" width="89.00" height="70.80"/></clipPath>
<g clip-path="url(#cSEQ)">
<path d="M573.16 451.93 L582.96 451.44 L586.23 453.89 L598.31 456.34 L610.40 454.70 L618.89 452.58 L627.05 456.34 L638.48 458.46 L647.46 457.48 L658.40 452.25 L658.40 454.70 L651.54 459.11 L643.38 463.36 L638.48 462.38 L627.05 460.42 L618.89 456.83 L610.40 458.46 L598.31 460.09 L582.96 456.83 L573.16 456.34 Z" fill="#0f44e2" fill-opacity="0.16"/>
<path d="M573.16 451.93 L582.96 451.44 L586.23 453.89 L598.31 456.34 L610.40 454.70 L618.89 452.58 L627.05 456.34 L638.48 458.46 L647.46 457.48 L658.40 452.25" fill="none" stroke="#0f44e2" stroke-opacity="0.22" stroke-width="1.3"/>
<path d="M573.16 456.34 L582.96 456.83 L598.31 460.09 L610.40 458.46 L618.89 456.83 L627.05 460.42 L638.48 462.38 L643.38 463.36 L651.54 459.11 L658.40 454.70" fill="none" stroke="#0f44e2" stroke-opacity="0.22" stroke-width="1.3"/>
<path d="M573.16 447.35 L576.43 449.80 L581.33 448.17 L586.23 448.17 L589.49 446.21 L593.58 448.99 L598.31 449.80 L604.19 450.29 L610.40 446.05 L613.99 448.66 L618.89 448.66 L622.48 447.35 L626.23 448.66 L630.32 450.62 L633.58 448.99 L637.66 451.44 L640.93 446.54 L645.01 436.74 L648.28 430.21 L651.54 428.58 L655.14 421.23 L658.40 427.76 L661.34 445.72" fill="none" stroke="#cb0520" stroke-opacity="0.30" stroke-width="1.6" stroke-linejoin="round"/>
<path d="M573.16 450.29 L581.33 451.44 L589.49 450.29 L598.31 453.56 L610.40 449.80 L622.48 450.29 L630.32 457.15 L637.66 457.97 L642.56 457.15 L646.16 455.52 L648.28 457.48 L651.54 459.60 L653.18 468.58 L654.81 474.62 L661.34 474.62" fill="none" stroke="#cb0520" stroke-opacity="0.30" stroke-width="1.6" stroke-linejoin="round"/>
<line x1="572.3" y1="474.60" x2="661.3" y2="474.60" stroke="#1f8a1f" stroke-width="1.2"/>
<path d="M573.16 448.99 L576.43 450.95 L581.33 449.80 L586.23 449.80 L589.49 448.66 L593.58 450.95 L598.31 451.93 L604.19 452.25 L610.40 448.17 L613.99 450.29 L618.89 450.62 L622.48 448.66 L626.23 450.62 L630.32 454.70 L633.58 453.56 L637.66 456.34 L640.93 452.25 L645.01 444.91 L648.28 443.27 L652.36 439.52 L655.63 441.15 L658.40 439.19 L661.34 450.62" fill="none" stroke="#cb0520" stroke-width="1.85" stroke-linejoin="round" stroke-linecap="round"/>
<path d="M573.16 454.21 L577.25 455.19 L581.33 454.70 L582.96 453.89 L586.23 456.34 L589.49 454.70 L593.58 456.34 L598.31 458.46 L604.19 456.34 L610.40 456.83 L615.62 455.52 L618.89 454.70 L622.48 456.34 L627.05 458.79 L631.13 460.42 L634.40 459.60 L638.48 460.42 L643.38 461.23 L647.46 459.60 L651.54 457.15 L655.63 455.19 L658.40 453.56" fill="none" stroke="#0d45de" stroke-width="1.85" stroke-linejoin="round" stroke-linecap="round"/>
</g>
<rect x="572.3" y="404.0" width="89.00" height="70.80" fill="none" stroke="#262626" stroke-width="0.9"/>
<text x="574.50" y="410.30" font-size="5.0" text-anchor="start" fill="#222" textLength="11.40" lengthAdjust="spacingAndGlyphs">SEQ</text>
<line x1="574.30" y1="474.80" x2="574.30" y2="478.00" stroke="#262626" stroke-width="0.8"/>
<text x="574.30" y="485.40" font-size="5.0" text-anchor="middle" fill="#262626" textLength="2.90" lengthAdjust="spacingAndGlyphs">0</text>
<line x1="586.33" y1="474.80" x2="586.33" y2="478.00" stroke="#262626" stroke-width="0.8"/>
<text x="586.33" y="485.40" font-size="5.0" text-anchor="middle" fill="#262626" textLength="5.70" lengthAdjust="spacingAndGlyphs">24</text>
<line x1="598.36" y1="474.80" x2="598.36" y2="478.00" stroke="#262626" stroke-width="0.8"/>
<text x="598.36" y="485.40" font-size="5.0" text-anchor="middle" fill="#262626" textLength="5.70" lengthAdjust="spacingAndGlyphs">48</text>
<line x1="610.39" y1="474.80" x2="610.39" y2="478.00" stroke="#262626" stroke-width="0.8"/>
<text x="610.39" y="485.40" font-size="5.0" text-anchor="middle" fill="#262626" textLength="5.70" lengthAdjust="spacingAndGlyphs">72</text>
<line x1="622.42" y1="474.80" x2="622.42" y2="478.00" stroke="#262626" stroke-width="0.8"/>
<text x="622.42" y="485.40" font-size="5.0" text-anchor="middle" fill="#262626" textLength="5.70" lengthAdjust="spacingAndGlyphs">96</text>
<line x1="634.45" y1="474.80" x2="634.45" y2="478.00" stroke="#262626" stroke-width="0.8"/>
<text x="634.45" y="485.40" font-size="5.0" text-anchor="middle" fill="#262626" textLength="8.50" lengthAdjust="spacingAndGlyphs">120</text>
<line x1="646.48" y1="474.80" x2="646.48" y2="478.00" stroke="#262626" stroke-width="0.8"/>
<text x="646.48" y="485.40" font-size="5.0" text-anchor="middle" fill="#262626" textLength="8.50" lengthAdjust="spacingAndGlyphs">144</text>
<line x1="658.51" y1="474.80" x2="658.51" y2="478.00" stroke="#262626" stroke-width="0.8"/>
<text x="658.51" y="485.40" font-size="5.0" text-anchor="middle" fill="#262626" textLength="8.50" lengthAdjust="spacingAndGlyphs">168</text>
<line x1="661.30" y1="474.80" x2="664.70" y2="474.80" stroke="#262626" stroke-width="0.8"/>
<text x="668.30" y="476.50" font-size="5.0" text-anchor="start" fill="#262626" textLength="2.90" lengthAdjust="spacingAndGlyphs">0</text>
<line x1="661.30" y1="463.00" x2="664.70" y2="463.00" stroke="#262626" stroke-width="0.8"/>
<text x="668.30" y="464.70" font-size="5.0" text-anchor="start" fill="#262626" textLength="5.70" lengthAdjust="spacingAndGlyphs">50</text>
<line x1="661.30" y1="451.20" x2="664.70" y2="451.20" stroke="#262626" stroke-width="0.8"/>
<text x="668.30" y="452.90" font-size="5.0" text-anchor="start" fill="#262626" textLength="8.50" lengthAdjust="spacingAndGlyphs">100</text>
<line x1="661.30" y1="439.40" x2="664.70" y2="439.40" stroke="#262626" stroke-width="0.8"/>
<text x="668.30" y="441.10" font-size="5.0" text-anchor="start" fill="#262626" textLength="8.50" lengthAdjust="spacingAndGlyphs">150</text>
<line x1="661.30" y1="427.60" x2="664.70" y2="427.60" stroke="#262626" stroke-width="0.8"/>
<text x="668.30" y="429.30" font-size="5.0" text-anchor="start" fill="#262626" textLength="8.50" lengthAdjust="spacingAndGlyphs">200</text>
<line x1="661.30" y1="415.80" x2="664.70" y2="415.80" stroke="#262626" stroke-width="0.8"/>
<text x="668.30" y="417.50" font-size="5.0" text-anchor="start" fill="#262626" textLength="8.50" lengthAdjust="spacingAndGlyphs">250</text>
<line x1="661.30" y1="404.00" x2="664.70" y2="404.00" stroke="#262626" stroke-width="0.8"/>
<text x="668.30" y="405.70" font-size="5.0" text-anchor="start" fill="#262626" textLength="8.50" lengthAdjust="spacingAndGlyphs">300</text></svg>
</body></html>
